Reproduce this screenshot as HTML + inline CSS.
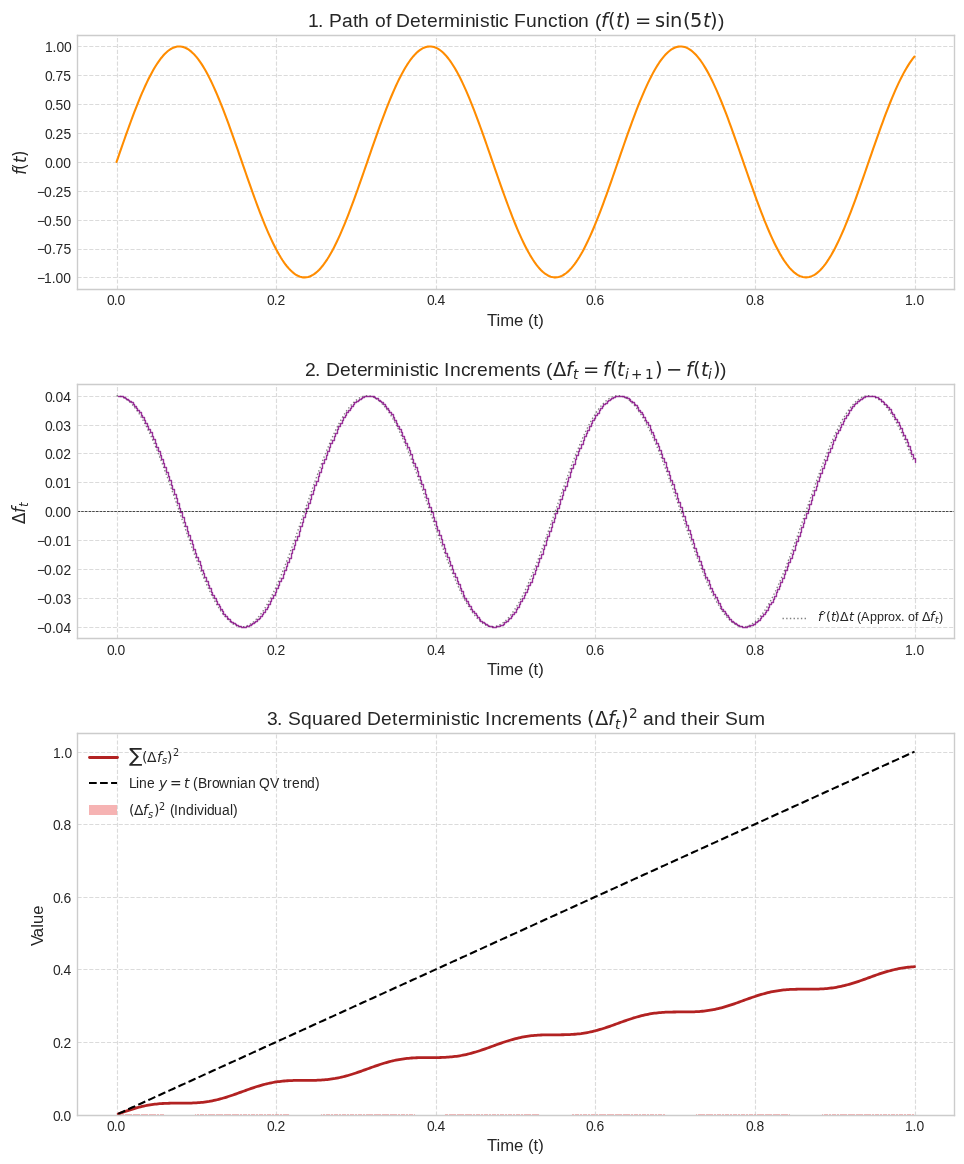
<!DOCTYPE html>
<html lang="en"><head><meta charset="utf-8"><title>Deterministic function: path, increments and quadratic variation</title><style>html,body{margin:0;padding:0;background:#fff}svg{display:block}text{fill:#262626;white-space:pre}.s{font-family:"Liberation Sans", sans-serif}.m{font-family:"DejaVu Sans", sans-serif}.mi{font-family:"DejaVu Sans", sans-serif;font-style:italic}</style></head><body>
<svg width="964" height="1164" viewBox="0 0 964 1164">
<defs><clipPath id="c1"><rect x="77" y="35" width="877" height="254"/></clipPath><clipPath id="c2"><rect x="77" y="384" width="877" height="254"/></clipPath><clipPath id="c3"><rect x="77" y="733" width="877" height="382"/></clipPath></defs>
<rect width="964" height="1164" fill="#fff"/>
<path d="M117.5 289.5L117.5 35.5" clip-path="url(#c1)" fill="none" stroke="#cccccc" stroke-width="1.111" stroke-opacity="0.7" stroke-dasharray="4.111,1.778" stroke-linejoin="round"/>
<text class="s" font-size="13.889" x="107 113.75 117.5" y="305">0.0</text>
<path d="M276.5 289.5L276.5 35.5" clip-path="url(#c1)" fill="none" stroke="#cccccc" stroke-width="1.111" stroke-opacity="0.7" stroke-dasharray="4.111,1.778" stroke-linejoin="round"/>
<text class="s" font-size="13.889" x="267 273.75 277.5" y="305">0.2</text>
<path d="M436.5 289.5L436.5 35.5" clip-path="url(#c1)" fill="none" stroke="#cccccc" stroke-width="1.111" stroke-opacity="0.7" stroke-dasharray="4.111,1.778" stroke-linejoin="round"/>
<text class="s" font-size="13.889" x="427 433.75 437.5" y="305">0.4</text>
<path d="M595.5 289.5L595.5 35.5" clip-path="url(#c1)" fill="none" stroke="#cccccc" stroke-width="1.111" stroke-opacity="0.7" stroke-dasharray="4.111,1.778" stroke-linejoin="round"/>
<text class="s" font-size="13.889" x="586 592.75 596.5" y="305">0.6</text>
<path d="M755.5 289.5L755.5 35.5" clip-path="url(#c1)" fill="none" stroke="#cccccc" stroke-width="1.111" stroke-opacity="0.7" stroke-dasharray="4.111,1.778" stroke-linejoin="round"/>
<text class="s" font-size="13.889" x="746 752.75 756.5" y="305">0.8</text>
<path d="M915.5 289.5L915.5 35.5" clip-path="url(#c1)" fill="none" stroke="#cccccc" stroke-width="1.111" stroke-opacity="0.7" stroke-dasharray="4.111,1.778" stroke-linejoin="round"/>
<text class="s" font-size="13.889" x="905 912.62 916.38" y="305">1.0</text>
<text class="s" font-size="16.667" x="487 496.5 500.25 514.12 523.38 528 533.62 538.25" y="326">Time (t)</text>
<path d="M77.5 277.5L954.5 277.5" clip-path="url(#c1)" fill="none" stroke="#cccccc" stroke-width="1.111" stroke-opacity="0.7" stroke-dasharray="4.111,1.778" stroke-linejoin="round"/>
<text class="s" font-size="13.889" x="37 44.12 51.75 55.5 63.25" y="283">−1.00</text>
<path d="M77.5 249.5L954.5 249.5" clip-path="url(#c1)" fill="none" stroke="#cccccc" stroke-width="1.111" stroke-opacity="0.7" stroke-dasharray="4.111,1.778" stroke-linejoin="round"/>
<text class="s" font-size="13.889" x="37 44.12 51.88 55.62 63.38" y="254">−0.75</text>
<path d="M77.5 220.5L954.5 220.5" clip-path="url(#c1)" fill="none" stroke="#cccccc" stroke-width="1.111" stroke-opacity="0.7" stroke-dasharray="4.111,1.778" stroke-linejoin="round"/>
<text class="s" font-size="13.889" x="37 44.12 51.88 55.62 63.38" y="226">−0.50</text>
<path d="M77.5 191.5L954.5 191.5" clip-path="url(#c1)" fill="none" stroke="#cccccc" stroke-width="1.111" stroke-opacity="0.7" stroke-dasharray="4.111,1.778" stroke-linejoin="round"/>
<text class="s" font-size="13.889" x="37 44.12 51.88 55.62 63.5" y="197">−0.25</text>
<path d="M77.5 162.5L954.5 162.5" clip-path="url(#c1)" fill="none" stroke="#cccccc" stroke-width="1.111" stroke-opacity="0.7" stroke-dasharray="4.111,1.778" stroke-linejoin="round"/>
<text class="s" font-size="13.889" x="45 51.75 55.5 63.25" y="168">0.00</text>
<path d="M77.5 133.5L954.5 133.5" clip-path="url(#c1)" fill="none" stroke="#cccccc" stroke-width="1.111" stroke-opacity="0.7" stroke-dasharray="4.111,1.778" stroke-linejoin="round"/>
<text class="s" font-size="13.889" x="45 51.75 55.5 63.38" y="139">0.25</text>
<path d="M77.5 104.5L954.5 104.5" clip-path="url(#c1)" fill="none" stroke="#cccccc" stroke-width="1.111" stroke-opacity="0.7" stroke-dasharray="4.111,1.778" stroke-linejoin="round"/>
<text class="s" font-size="13.889" x="45 51.75 55.5 63.25" y="110">0.50</text>
<path d="M77.5 75.5L954.5 75.5" clip-path="url(#c1)" fill="none" stroke="#cccccc" stroke-width="1.111" stroke-opacity="0.7" stroke-dasharray="4.111,1.778" stroke-linejoin="round"/>
<text class="s" font-size="13.889" x="45 51.75 55.5 63.25" y="81">0.75</text>
<path d="M77.5 46.5L954.5 46.5" clip-path="url(#c1)" fill="none" stroke="#cccccc" stroke-width="1.111" stroke-opacity="0.7" stroke-dasharray="4.111,1.778" stroke-linejoin="round"/>
<text class="s" font-size="13.889" x="45 52.62 56.38 64.12" y="52">1.00</text>
<text transform="translate(31 176) rotate(-90)" xml:space="preserve"><tspan class="mi" font-size="16.834" x="1" y="-5">f</tspan><tspan class="m" font-size="16.75" x="6" y="-5">(</tspan><tspan class="mi" font-size="16.834" x="13" y="-5">t</tspan><tspan class="m" font-size="16.75" x="19" y="-5">)</tspan></text>
<path d="M116.57 161.92L118.16 157.3L119.76 152.69L121.35 148.09L122.95 143.52L124.55 138.98L126.14 134.47L127.74 130L129.33 125.59L130.93 121.24L132.53 116.95L134.12 112.73L135.72 108.59L137.31 104.54L138.91 100.57L140.51 96.71L142.1 92.95L143.7 89.3L145.29 85.77L146.89 82.36L148.48 79.07L150.08 75.92L151.68 72.91L153.27 70.04L154.87 67.31L156.46 64.74L158.06 62.32L159.66 60.06L161.25 57.97L162.85 56.04L164.44 54.28L166.04 52.69L167.64 51.28L169.23 50.04L170.83 48.99L172.42 48.11L174.02 47.42L175.62 46.91L177.21 46.58L178.81 46.44L180.4 46.48L182 46.71L183.6 47.12L185.19 47.71L186.79 48.49L188.38 49.45L189.98 50.59L191.58 51.91L193.17 53.4L194.77 55.07L196.36 56.91L197.96 58.91L199.56 61.08L201.15 63.41L202.75 65.9L204.34 68.55L205.94 71.34L207.54 74.28L209.13 77.36L210.73 80.57L212.32 83.91L213.92 87.38L215.52 90.97L217.11 94.67L218.71 98.48L220.3 102.38L221.9 106.39L223.49 110.48L225.09 114.66L226.69 118.91L228.28 123.23L229.88 127.61L231.47 132.05L233.07 136.54L234.67 141.06L236.26 145.62L237.86 150.21L239.45 154.81L241.05 159.43L242.65 164.05L244.24 168.66L245.84 173.27L247.43 177.85L249.03 182.41L250.63 186.94L252.22 191.43L253.82 195.87L255.41 200.26L257.01 204.59L258.61 208.84L260.2 213.03L261.8 217.13L263.39 221.14L264.99 225.06L266.59 228.87L268.18 232.58L269.78 236.18L271.37 239.66L272.97 243.01L274.57 246.23L276.16 249.32L277.76 252.27L279.35 255.08L280.95 257.73L282.55 260.23L284.14 262.58L285.74 264.76L287.33 266.78L288.93 268.63L290.53 270.31L292.12 271.82L293.72 273.15L295.31 274.3L296.91 275.28L298.51 276.07L300.1 276.68L301.7 277.11L303.29 277.35L304.89 277.41L306.48 277.28L308.08 276.97L309.68 276.47L311.27 275.79L312.87 274.93L314.46 273.89L316.06 272.66L317.66 271.27L319.25 269.69L320.85 267.95L322.44 266.03L324.04 263.95L325.64 261.7L327.23 259.3L328.83 256.74L330.42 254.03L332.02 251.17L333.62 248.16L335.21 245.02L336.81 241.75L338.4 238.35L340 234.82L341.6 231.18L343.19 227.43L344.79 223.58L346.38 219.62L347.98 215.58L349.58 211.44L351.17 207.23L352.77 202.95L354.36 198.6L355.96 194.19L357.56 189.73L359.15 185.22L360.75 180.68L362.34 176.11L363.94 171.52L365.54 166.91L367.13 162.29L368.73 157.67L370.32 153.06L371.92 148.46L373.52 143.88L375.11 139.34L376.71 134.83L378.3 130.36L379.9 125.94L381.49 121.58L383.09 117.29L384.69 113.06L386.28 108.92L387.88 104.86L389.47 100.89L391.07 97.01L392.67 93.25L394.26 89.59L395.86 86.04L397.45 82.62L399.05 79.33L400.65 76.17L402.24 73.14L403.84 70.26L405.43 67.52L407.03 64.94L408.63 62.51L410.22 60.24L411.82 58.13L413.41 56.19L415.01 54.41L416.61 52.81L418.2 51.39L419.8 50.14L421.39 49.06L422.99 48.17L424.59 47.47L426.18 46.94L427.78 46.6L429.37 46.44L430.97 46.47L432.57 46.68L434.16 47.08L435.76 47.66L437.35 48.42L438.95 49.37L440.55 50.49L442.14 51.8L443.74 53.28L445.33 54.93L446.93 56.75L448.53 58.75L450.12 60.9L451.72 63.22L453.31 65.7L454.91 68.33L456.51 71.11L458.1 74.04L459.7 77.1L461.29 80.31L462.89 83.64L464.48 87.1L466.08 90.68L467.68 94.37L469.27 98.17L470.87 102.07L472.46 106.07L474.06 110.15L475.66 114.32L477.25 118.57L478.85 122.89L480.44 127.26L482.04 131.7L483.64 136.18L485.23 140.7L486.83 145.26L488.42 149.84L490.02 154.44L491.62 159.06L493.21 163.68L494.81 168.29L496.4 172.9L498 177.49L499.6 182.05L501.19 186.58L502.79 191.08L504.38 195.52L505.98 199.91L507.58 204.24L509.17 208.51L510.77 212.7L512.36 216.8L513.96 220.82L515.56 224.75L517.15 228.57L518.75 232.29L520.34 235.9L521.94 239.38L523.54 242.75L525.13 245.98L526.73 249.08L528.32 252.04L529.92 254.86L531.52 257.52L533.11 260.04L534.71 262.4L536.3 264.59L537.9 266.63L539.49 268.49L541.09 270.18L542.69 271.71L544.28 273.05L545.88 274.22L547.47 275.21L549.07 276.01L550.67 276.64L552.26 277.08L553.86 277.34L555.45 277.41L557.05 277.29L558.65 277L560.24 276.52L561.84 275.85L563.43 275L565.03 273.98L566.63 272.77L568.22 271.38L569.82 269.82L571.41 268.09L573.01 266.19L574.61 264.12L576.2 261.89L577.8 259.5L579.39 256.95L580.99 254.25L582.59 251.4L584.18 248.41L585.78 245.28L587.37 242.01L588.97 238.62L590.57 235.11L592.16 231.48L593.76 227.74L595.35 223.89L596.95 219.94L598.55 215.9L600.14 211.78L601.74 207.57L603.33 203.29L604.93 198.95L606.53 194.54L608.12 190.09L609.72 185.58L611.31 181.05L612.91 176.48L614.51 171.88L616.1 167.27L617.7 162.66L619.29 158.04L620.89 153.42L622.48 148.82L624.08 144.25L625.68 139.7L627.27 135.18L628.87 130.71L630.46 126.29L632.06 121.93L633.66 117.62L635.25 113.4L636.85 109.24L638.44 105.18L640.04 101.2L641.64 97.32L643.23 93.54L644.83 89.87L646.42 86.32L648.02 82.89L649.62 79.59L651.21 76.41L652.81 73.38L654.4 70.48L656 67.74L657.6 65.14L659.19 62.7L660.79 60.41L662.38 58.29L663.98 56.33L665.58 54.55L667.17 52.93L668.77 51.49L670.36 50.23L671.96 49.14L673.56 48.24L675.15 47.52L676.75 46.98L678.34 46.62L679.94 46.45L681.54 46.46L683.13 46.66L684.73 47.04L686.32 47.61L687.92 48.36L689.52 49.29L691.11 50.4L692.71 51.69L694.3 53.15L695.9 54.79L697.49 56.6L699.09 58.58L700.69 60.73L702.28 63.03L703.88 65.5L705.47 68.12L707.07 70.89L708.67 73.8L710.26 76.86L711.86 80.05L713.45 83.37L715.05 86.82L716.65 90.39L718.24 94.07L719.84 97.86L721.43 101.76L723.03 105.75L724.63 109.83L726.22 113.99L727.82 118.23L729.41 122.54L731.01 126.91L732.61 131.34L734.2 135.82L735.8 140.34L737.39 144.89L738.99 149.48L740.59 154.08L742.18 158.69L743.78 163.31L745.37 167.93L746.97 172.53L748.57 177.12L750.16 181.69L751.76 186.22L753.35 190.72L754.95 195.17L756.55 199.57L758.14 203.9L759.74 208.17L761.33 212.37L762.93 216.48L764.53 220.51L766.12 224.44L767.72 228.27L769.31 232L770.91 235.61L772.51 239.11L774.1 242.48L775.7 245.73L777.29 248.84L778.89 251.81L780.48 254.64L782.08 257.32L783.68 259.84L785.27 262.21L786.87 264.42L788.46 266.47L790.06 268.35L791.66 270.06L793.25 271.59L794.85 272.95L796.44 274.13L798.04 275.13L799.64 275.96L801.23 276.6L802.83 277.05L804.42 277.32L806.02 277.41L807.62 277.31L809.21 277.03L810.81 276.56L812.4 275.91L814 275.08L815.6 274.06L817.19 272.87L818.79 271.5L820.38 269.95L821.98 268.24L823.58 266.35L825.17 264.29L826.77 262.07L828.36 259.69L829.96 257.16L831.56 254.47L833.15 251.63L834.75 248.65L836.34 245.53L837.94 242.28L839.54 238.9L841.13 235.39L842.73 231.77L844.32 228.04L845.92 224.2L847.52 220.26L849.11 216.23L850.71 212.11L852.3 207.91L853.9 203.63L855.49 199.29L857.09 194.89L858.69 190.44L860.28 185.94L861.88 181.41L863.47 176.84L865.07 172.25L866.67 167.64L868.26 163.02L869.86 158.4L871.45 153.79L873.05 149.19L874.65 144.61L876.24 140.06L877.84 135.54L879.43 131.07L881.03 126.64L882.63 122.27L884.22 117.96L885.82 113.73L887.41 109.57L889.01 105.5L890.61 101.51L892.2 97.62L893.8 93.84L895.39 90.16L896.99 86.6L898.59 83.16L900.18 79.85L901.78 76.66L903.37 73.62L904.97 70.71L906.57 67.95L908.16 65.34L909.76 62.88L911.35 60.59L912.95 58.45L914.55 56.48" clip-path="url(#c1)" fill="none" stroke="#ff8c00" stroke-width="2.083" stroke-linecap="round" stroke-linejoin="round"/>
<path d="M77.5 289.5L77.5 35.5" fill="none" stroke="#cccccc" stroke-width="1.389" stroke-linecap="square"/>
<path d="M954.5 289.5L954.5 35.5" fill="none" stroke="#cccccc" stroke-width="1.389" stroke-linecap="square"/>
<path d="M77.5 289.5L954.5 289.5" fill="none" stroke="#cccccc" stroke-width="1.389" stroke-linecap="square"/>
<path d="M77.5 35.5L954.5 35.5" fill="none" stroke="#cccccc" stroke-width="1.389" stroke-linecap="square"/>
<text transform="translate(307 34)" xml:space="preserve"><tspan class="s" font-size="19.25" x="1 11 17 22 35 46 51 62 68 79 84 89 103 114 120 131 137 153 158 168 173 183 188 192 202 207 219 230 241 251 256 261 271 282 288" y="-7">1. Path of Deterministic Function (</tspan><tspan class="mi" font-size="19.444" x="294" y="-7">f</tspan><tspan class="m" font-size="19.444" x="301" y="-7">(</tspan><tspan class="mi" font-size="19.444" x="309" y="-7">t</tspan><tspan class="m" font-size="19.444" x="316 328 348 358 363 376 383" y="-7">)=sin(5</tspan><tspan class="mi" font-size="19.444" x="396" y="-7">t</tspan><tspan class="m" font-size="19.444" x="403" y="-7">)</tspan><tspan class="s" font-size="19.25" x="411" y="-7">)</tspan></text>
<path d="M117.5 638.5L117.5 384.5" clip-path="url(#c2)" fill="none" stroke="#cccccc" stroke-width="1.111" stroke-opacity="0.7" stroke-dasharray="4.111,1.778" stroke-linejoin="round"/>
<text class="s" font-size="13.889" x="107 113.75 117.5" y="655">0.0</text>
<path d="M276.5 638.5L276.5 384.5" clip-path="url(#c2)" fill="none" stroke="#cccccc" stroke-width="1.111" stroke-opacity="0.7" stroke-dasharray="4.111,1.778" stroke-linejoin="round"/>
<text class="s" font-size="13.889" x="267 273.75 277.5" y="655">0.2</text>
<path d="M436.5 638.5L436.5 384.5" clip-path="url(#c2)" fill="none" stroke="#cccccc" stroke-width="1.111" stroke-opacity="0.7" stroke-dasharray="4.111,1.778" stroke-linejoin="round"/>
<text class="s" font-size="13.889" x="427 433.75 437.5" y="655">0.4</text>
<path d="M595.5 638.5L595.5 384.5" clip-path="url(#c2)" fill="none" stroke="#cccccc" stroke-width="1.111" stroke-opacity="0.7" stroke-dasharray="4.111,1.778" stroke-linejoin="round"/>
<text class="s" font-size="13.889" x="586 592.75 596.5" y="655">0.6</text>
<path d="M755.5 638.5L755.5 384.5" clip-path="url(#c2)" fill="none" stroke="#cccccc" stroke-width="1.111" stroke-opacity="0.7" stroke-dasharray="4.111,1.778" stroke-linejoin="round"/>
<text class="s" font-size="13.889" x="746 752.75 756.5" y="655">0.8</text>
<path d="M915.5 638.5L915.5 384.5" clip-path="url(#c2)" fill="none" stroke="#cccccc" stroke-width="1.111" stroke-opacity="0.7" stroke-dasharray="4.111,1.778" stroke-linejoin="round"/>
<text class="s" font-size="13.889" x="905 912.62 916.38" y="655">1.0</text>
<text class="s" font-size="16.667" x="487 496.5 500.25 514.12 523.38 528 533.62 538.25" y="675">Time (t)</text>
<path d="M77.5 627.5L954.5 627.5" clip-path="url(#c2)" fill="none" stroke="#cccccc" stroke-width="1.111" stroke-opacity="0.7" stroke-dasharray="4.111,1.778" stroke-linejoin="round"/>
<text class="s" font-size="13.889" x="37 44.12 51.88 55.62 63.38" y="633">−0.04</text>
<path d="M77.5 598.5L954.5 598.5" clip-path="url(#c2)" fill="none" stroke="#cccccc" stroke-width="1.111" stroke-opacity="0.7" stroke-dasharray="4.111,1.778" stroke-linejoin="round"/>
<text class="s" font-size="13.889" x="37 44.12 51.88 55.62 63.38" y="604">−0.03</text>
<path d="M77.5 569.5L954.5 569.5" clip-path="url(#c2)" fill="none" stroke="#cccccc" stroke-width="1.111" stroke-opacity="0.7" stroke-dasharray="4.111,1.778" stroke-linejoin="round"/>
<text class="s" font-size="13.889" x="37 44.12 51.88 55.62 63.38" y="575">−0.02</text>
<path d="M77.5 540.5L954.5 540.5" clip-path="url(#c2)" fill="none" stroke="#cccccc" stroke-width="1.111" stroke-opacity="0.7" stroke-dasharray="4.111,1.778" stroke-linejoin="round"/>
<text class="s" font-size="13.889" x="37 44.12 51.88 55.62 63.38" y="546">−0.01</text>
<path d="M77.5 511.5L954.5 511.5" clip-path="url(#c2)" fill="none" stroke="#cccccc" stroke-width="1.111" stroke-opacity="0.7" stroke-dasharray="4.111,1.778" stroke-linejoin="round"/>
<text class="s" font-size="13.889" x="45 51.75 55.5 63.25" y="517">0.00</text>
<path d="M77.5 482.5L954.5 482.5" clip-path="url(#c2)" fill="none" stroke="#cccccc" stroke-width="1.111" stroke-opacity="0.7" stroke-dasharray="4.111,1.778" stroke-linejoin="round"/>
<text class="s" font-size="13.889" x="45 51.75 55.5 63.25" y="488">0.01</text>
<path d="M77.5 453.5L954.5 453.5" clip-path="url(#c2)" fill="none" stroke="#cccccc" stroke-width="1.111" stroke-opacity="0.7" stroke-dasharray="4.111,1.778" stroke-linejoin="round"/>
<text class="s" font-size="13.889" x="45 51.75 55.5 63.25" y="459">0.02</text>
<path d="M77.5 425.5L954.5 425.5" clip-path="url(#c2)" fill="none" stroke="#cccccc" stroke-width="1.111" stroke-opacity="0.7" stroke-dasharray="4.111,1.778" stroke-linejoin="round"/>
<text class="s" font-size="13.889" x="45 51.75 55.5 63.25" y="431">0.03</text>
<path d="M77.5 396.5L954.5 396.5" clip-path="url(#c2)" fill="none" stroke="#cccccc" stroke-width="1.111" stroke-opacity="0.7" stroke-dasharray="4.111,1.778" stroke-linejoin="round"/>
<text class="s" font-size="13.889" x="45 51.75 55.5 63.25" y="402">0.04</text>
<text transform="translate(31 525) rotate(-90)" xml:space="preserve"><tspan class="m" font-size="16.75" x="1" y="-6">Δ</tspan><tspan class="mi" font-size="16.834" x="12" y="-6">f</tspan><tspan class="mi" font-size="11.667" x="18" y="-3">t</tspan></text>
<path d="M116.57 395.73L118.16 395.83L119.76 396.1L121.35 396.56L122.95 397.21L124.55 398.04L126.14 399.04L127.74 400.23L129.33 401.6L130.93 403.14L132.53 404.85L134.12 406.73L135.72 408.78L137.31 411L138.91 413.37L140.51 415.91L142.1 418.59L143.7 421.42L145.29 424.4L146.89 427.51L148.48 430.76L150.08 434.14L151.68 437.64L153.27 441.26L154.87 444.99L156.46 448.82L158.06 452.76L159.66 456.79L161.25 460.91L162.85 465.1L164.44 469.37L166.04 473.71L167.64 478.11L169.23 482.56L170.83 487.06L172.42 491.59L174.02 496.16L175.62 500.75L177.21 505.36L178.81 509.98L180.4 514.6L182 519.21L183.6 523.81L185.19 528.39L186.79 532.94L188.38 537.46L189.98 541.94L191.58 546.37L193.17 550.74L194.77 555.05L196.36 559.28L197.96 563.44L199.56 567.52L201.15 571.51L202.75 575.4L204.34 579.19L205.94 582.87L207.54 586.43L209.13 589.88L210.73 593.2L212.32 596.38L213.92 599.44L215.52 602.35L217.11 605.11L218.71 607.72L220.3 610.18L221.9 612.49L223.49 614.63L225.09 616.6L226.69 618.41L228.28 620.04L229.88 621.5L231.47 622.78L233.07 623.89L234.67 624.81L236.26 625.56L237.86 626.12L239.45 626.49L241.05 626.69L242.65 626.69L244.24 626.52L245.84 626.15L247.43 625.61L249.03 624.88L250.63 623.97L252.22 622.88L253.82 621.61L255.41 620.16L257.01 618.54L258.61 616.75L260.2 614.79L261.8 612.66L263.39 610.37L264.99 607.93L266.59 605.32L268.18 602.57L269.78 599.67L271.37 596.63L272.97 593.46L274.57 590.15L276.16 586.71L277.76 583.16L279.35 579.49L280.95 575.71L282.55 571.82L284.14 567.84L285.74 563.77L287.33 559.62L288.93 555.39L290.53 551.08L292.12 546.72L293.72 542.29L295.31 537.82L296.91 533.31L298.51 528.75L300.1 524.18L301.7 519.58L303.29 514.96L304.89 510.34L306.48 505.73L308.08 501.12L309.68 496.53L311.27 491.96L312.87 487.42L314.46 482.92L316.06 478.46L317.66 474.06L319.25 469.72L320.85 465.44L322.44 461.24L324.04 457.11L325.64 453.08L327.23 449.13L328.83 445.29L330.42 441.55L332.02 437.92L333.62 434.41L335.21 431.02L336.81 427.77L338.4 424.64L340 421.65L341.6 418.81L343.19 416.11L344.79 413.57L346.38 411.18L347.98 408.95L349.58 406.89L351.17 404.99L352.77 403.27L354.36 401.71L355.96 400.33L357.56 399.13L359.15 398.11L360.75 397.27L362.34 396.61L363.94 396.13L365.54 395.84L367.13 395.73L368.73 395.81L370.32 396.07L371.92 396.52L373.52 397.15L375.11 397.96L376.71 398.96L378.3 400.13L379.9 401.48L381.49 403.01L383.09 404.71L384.69 406.58L386.28 408.62L387.88 410.82L389.47 413.18L391.07 415.7L392.67 418.37L394.26 421.19L395.86 424.16L397.45 427.26L399.05 430.5L400.65 433.86L402.24 437.36L403.84 440.96L405.43 444.69L407.03 448.51L408.63 452.44L410.22 456.47L411.82 460.58L413.41 464.77L415.01 469.03L416.61 473.36L418.2 477.76L419.8 482.21L421.39 486.7L422.99 491.23L424.59 495.8L426.18 500.39L427.78 504.99L429.37 509.61L430.97 514.23L432.57 518.84L434.16 523.44L435.76 528.03L437.35 532.58L438.95 537.1L440.55 541.58L442.14 546.02L443.74 550.39L445.33 554.71L446.93 558.95L448.53 563.12L450.12 567.2L451.72 571.2L453.31 575.09L454.91 578.89L456.51 582.58L458.1 586.15L459.7 589.61L461.29 592.94L462.89 596.14L464.48 599.2L466.08 602.12L467.68 604.9L469.27 607.52L470.87 609.99L472.46 612.31L474.06 614.46L475.66 616.45L477.25 618.27L478.85 619.92L480.44 621.39L482.04 622.69L483.64 623.81L485.23 624.75L486.83 625.5L488.42 626.08L490.02 626.47L491.62 626.68L493.21 626.7L494.81 626.54L496.4 626.19L498 625.66L499.6 624.94L501.19 624.05L502.79 622.97L504.38 621.72L505.98 620.28L507.58 618.68L509.17 616.9L510.77 614.95L512.36 612.84L513.96 610.56L515.56 608.13L517.15 605.54L518.75 602.8L520.34 599.91L521.94 596.88L523.54 593.71L525.13 590.41L526.73 586.99L528.32 583.44L529.92 579.78L531.52 576.01L533.11 572.14L534.71 568.16L536.3 564.1L537.9 559.95L539.49 555.73L541.09 551.43L542.69 547.07L544.28 542.65L545.88 538.18L547.47 533.67L549.07 529.12L550.67 524.54L552.26 519.94L553.86 515.33L555.45 510.71L557.05 506.09L558.65 501.48L560.24 496.89L561.84 492.32L563.43 487.78L565.03 483.27L566.63 478.82L568.22 474.41L569.82 470.06L571.41 465.78L573.01 461.57L574.61 457.44L576.2 453.4L577.8 449.44L579.39 445.59L580.99 441.84L582.59 438.21L584.18 434.69L585.78 431.29L587.37 428.02L588.97 424.88L590.57 421.89L592.16 419.03L593.76 416.32L595.35 413.77L596.95 411.37L598.55 409.13L600.14 407.05L601.74 405.14L603.33 403.4L604.93 401.83L606.53 400.44L608.12 399.22L609.72 398.18L611.31 397.33L612.91 396.65L614.51 396.16L616.1 395.86L617.7 395.74L619.29 395.8L620.89 396.05L622.48 396.48L624.08 397.09L625.68 397.89L627.27 398.87L628.87 400.03L630.46 401.37L632.06 402.88L633.66 404.57L635.25 406.42L636.85 408.45L638.44 410.64L640.04 412.99L641.64 415.49L643.23 418.15L644.83 420.96L646.42 423.91L648.02 427.01L649.62 430.23L651.21 433.59L652.81 437.07L654.4 440.67L656 444.39L657.6 448.21L659.19 452.13L660.79 456.14L662.38 460.25L663.98 464.43L665.58 468.69L667.17 473.02L668.77 477.41L670.36 481.85L671.96 486.34L673.56 490.87L675.15 495.43L676.75 500.02L678.34 504.62L679.94 509.24L681.54 513.86L683.13 518.47L684.73 523.08L686.32 527.66L687.92 532.22L689.52 536.75L691.11 541.23L692.71 545.66L694.3 550.05L695.9 554.36L697.49 558.61L699.09 562.79L700.69 566.88L702.28 570.88L703.88 574.79L705.47 578.59L707.07 582.29L708.67 585.87L710.26 589.34L711.86 592.68L713.45 595.89L715.05 598.96L716.65 601.89L718.24 604.68L719.84 607.32L721.43 609.8L723.03 612.13L724.63 614.3L726.22 616.3L727.82 618.13L729.41 619.79L731.01 621.28L732.61 622.59L734.2 623.72L735.8 624.68L737.39 625.45L738.99 626.04L740.59 626.45L742.18 626.67L743.78 626.7L745.37 626.56L746.97 626.22L748.57 625.71L750.16 625.01L751.76 624.13L753.35 623.06L754.95 621.82L756.55 620.4L758.14 618.81L759.74 617.05L761.33 615.11L762.93 613.01L764.53 610.75L766.12 608.33L767.72 605.75L769.31 603.02L770.91 600.14L772.51 597.13L774.1 593.97L775.7 590.68L777.29 587.27L778.89 583.73L780.48 580.08L782.08 576.31L783.68 572.45L785.27 568.48L786.87 564.43L788.46 560.28L790.06 556.06L791.66 551.77L793.25 547.42L794.85 543L796.44 538.54L798.04 534.03L799.64 529.48L801.23 524.91L802.83 520.31L804.42 515.7L806.02 511.08L807.62 506.46L809.21 501.85L810.81 497.26L812.4 492.68L814 488.14L815.6 483.63L817.19 479.17L818.79 474.76L820.38 470.4L821.98 466.12L823.58 461.9L825.17 457.77L826.77 453.71L828.36 449.76L829.96 445.89L831.56 442.14L833.15 438.49L834.75 434.96L836.34 431.56L837.94 428.28L839.54 425.13L841.13 422.12L842.73 419.25L844.32 416.53L845.92 413.96L847.52 411.55L849.11 409.3L850.71 407.21L852.3 405.28L853.9 403.53L855.49 401.95L857.09 400.54L858.69 399.31L860.28 398.26L861.88 397.39L863.47 396.7L865.07 396.2L866.67 395.88L868.26 395.74L869.86 395.79L871.45 396.02L873.05 396.44L874.65 397.04L876.24 397.82L877.84 398.79L879.43 399.93L881.03 401.25L882.63 402.75L884.22 404.43L885.82 406.27L887.41 408.28L889.01 410.46L890.61 412.79L892.2 415.29L893.8 417.93L895.39 420.73L896.99 423.67L898.59 426.76L900.18 429.97L901.78 433.32L903.37 436.79L904.97 440.38L906.57 444.09L908.16 447.9L909.76 451.81L911.35 455.82L912.95 459.92" clip-path="url(#c2)" fill="none" stroke="#808080" stroke-width="1.389" stroke-dasharray="1.389,2.292" stroke-linejoin="round"/>
<path d="M118.5 396.5L120.5 396.5L120.5 396.5L121.5 396.5L121.5 396.5L123.5 396.5L123.5 397.5L125.5 397.5L125.5 398.5L126.5 398.5L126.5 399.5L128.5 399.5L128.5 400.5L129.5 400.5L129.5 401.5L131.5 401.5L131.5 402.5L133.5 402.5L133.5 404.5L134.5 404.5L134.5 406.5L136.5 406.5L136.5 408.5L137.5 408.5L137.5 410.5L139.5 410.5L139.5 412.5L141.5 412.5L141.5 415.5L142.5 415.5L142.5 417.5L144.5 417.5L144.5 420.5L145.5 420.5L145.5 423.5L147.5 423.5L147.5 426.5L148.5 426.5L148.5 429.5L150.5 429.5L150.5 432.5L152.5 432.5L152.5 436.5L153.5 436.5L153.5 439.5L155.5 439.5L155.5 443.5L156.5 443.5L156.5 447.5L158.5 447.5L158.5 451.5L160.5 451.5L160.5 455.5L161.5 455.5L161.5 459.5L163.5 459.5L163.5 463.5L164.5 463.5L164.5 467.5L166.5 467.5L166.5 472.5L168.5 472.5L168.5 476.5L169.5 476.5L169.5 480.5L171.5 480.5L171.5 485.5L172.5 485.5L172.5 489.5L174.5 489.5L174.5 494.5L176.5 494.5L176.5 498.5L177.5 498.5L177.5 503.5L179.5 503.5L179.5 508.5L180.5 508.5L180.5 512.5L182.5 512.5L182.5 517.5L184.5 517.5L184.5 522.5L185.5 522.5L185.5 526.5L187.5 526.5L187.5 531.5L188.5 531.5L188.5 535.5L190.5 535.5L190.5 540.5L192.5 540.5L192.5 544.5L193.5 544.5L193.5 549.5L195.5 549.5L195.5 553.5L196.5 553.5L196.5 557.5L198.5 557.5L198.5 561.5L200.5 561.5L200.5 565.5L201.5 565.5L201.5 570.5L203.5 570.5L203.5 573.5L204.5 573.5L204.5 577.5L206.5 577.5L206.5 581.5L208.5 581.5L208.5 585.5L209.5 585.5L209.5 588.5L211.5 588.5L211.5 592.5L212.5 592.5L212.5 595.5L214.5 595.5L214.5 598.5L216.5 598.5L216.5 601.5L217.5 601.5L217.5 604.5L219.5 604.5L219.5 606.5L220.5 606.5L220.5 609.5L222.5 609.5L222.5 611.5L223.5 611.5L223.5 614.5L225.5 614.5L225.5 616.5L227.5 616.5L227.5 618.5L228.5 618.5L228.5 619.5L230.5 619.5L230.5 621.5L231.5 621.5L231.5 622.5L233.5 622.5L233.5 623.5L235.5 623.5L235.5 624.5L236.5 624.5L236.5 625.5L238.5 625.5L238.5 626.5L239.5 626.5L239.5 626.5L241.5 626.5L241.5 627.5L243.5 627.5L243.5 627.5L244.5 627.5L244.5 627.5L246.5 627.5L246.5 626.5L247.5 626.5L247.5 626.5L249.5 626.5L249.5 625.5L251.5 625.5L251.5 624.5L252.5 624.5L252.5 623.5L254.5 623.5L254.5 622.5L255.5 622.5L255.5 621.5L257.5 621.5L257.5 619.5L259.5 619.5L259.5 618.5L260.5 618.5L260.5 616.5L262.5 616.5L262.5 614.5L263.5 614.5L263.5 612.5L265.5 612.5L265.5 609.5L267.5 609.5L267.5 607.5L268.5 607.5L268.5 604.5L270.5 604.5L270.5 601.5L271.5 601.5L271.5 598.5L273.5 598.5L273.5 595.5L275.5 595.5L275.5 592.5L276.5 592.5L276.5 588.5L278.5 588.5L278.5 585.5L279.5 585.5L279.5 581.5L281.5 581.5L281.5 578.5L283.5 578.5L283.5 574.5L284.5 574.5L284.5 570.5L286.5 570.5L286.5 566.5L287.5 566.5L287.5 562.5L289.5 562.5L289.5 558.5L291.5 558.5L291.5 553.5L292.5 553.5L292.5 549.5L294.5 549.5L294.5 545.5L295.5 545.5L295.5 540.5L297.5 540.5L297.5 536.5L299.5 536.5L299.5 531.5L300.5 531.5L300.5 526.5L302.5 526.5L302.5 522.5L303.5 522.5L303.5 517.5L305.5 517.5L305.5 513.5L306.5 513.5L306.5 508.5L308.5 508.5L308.5 503.5L310.5 503.5L310.5 499.5L311.5 499.5L311.5 494.5L313.5 494.5L313.5 490.5L314.5 490.5L314.5 485.5L316.5 485.5L316.5 481.5L318.5 481.5L318.5 476.5L319.5 476.5L319.5 472.5L321.5 472.5L321.5 468.5L322.5 468.5L322.5 463.5L324.5 463.5L324.5 459.5L326.5 459.5L326.5 455.5L327.5 455.5L327.5 451.5L329.5 451.5L329.5 447.5L330.5 447.5L330.5 443.5L332.5 443.5L332.5 440.5L334.5 440.5L334.5 436.5L335.5 436.5L335.5 433.5L337.5 433.5L337.5 429.5L338.5 429.5L338.5 426.5L340.5 426.5L340.5 423.5L342.5 423.5L342.5 420.5L343.5 420.5L343.5 417.5L345.5 417.5L345.5 415.5L346.5 415.5L346.5 412.5L348.5 412.5L348.5 410.5L350.5 410.5L350.5 408.5L351.5 408.5L351.5 406.5L353.5 406.5L353.5 404.5L354.5 404.5L354.5 402.5L356.5 402.5L356.5 401.5L358.5 401.5L358.5 400.5L359.5 400.5L359.5 399.5L361.5 399.5L361.5 398.5L362.5 398.5L362.5 397.5L364.5 397.5L364.5 396.5L366.5 396.5L366.5 396.5L367.5 396.5L367.5 396.5L369.5 396.5L369.5 396.5L370.5 396.5L370.5 396.5L372.5 396.5L372.5 396.5L374.5 396.5L374.5 397.5L375.5 397.5L375.5 398.5L377.5 398.5L377.5 398.5L378.5 398.5L378.5 400.5L380.5 400.5L380.5 401.5L381.5 401.5L381.5 402.5L383.5 402.5L383.5 404.5L385.5 404.5L385.5 406.5L386.5 406.5L386.5 408.5L388.5 408.5L388.5 410.5L389.5 410.5L389.5 412.5L391.5 412.5L391.5 414.5L393.5 414.5L393.5 417.5L394.5 417.5L394.5 420.5L396.5 420.5L396.5 423.5L397.5 423.5L397.5 426.5L399.5 426.5L399.5 429.5L401.5 429.5L401.5 432.5L402.5 432.5L402.5 436.5L404.5 436.5L404.5 439.5L405.5 439.5L405.5 443.5L407.5 443.5L407.5 447.5L409.5 447.5L409.5 450.5L410.5 450.5L410.5 454.5L412.5 454.5L412.5 459.5L413.5 459.5L413.5 463.5L415.5 463.5L415.5 467.5L417.5 467.5L417.5 471.5L418.5 471.5L418.5 476.5L420.5 476.5L420.5 480.5L421.5 480.5L421.5 484.5L423.5 484.5L423.5 489.5L425.5 489.5L425.5 494.5L426.5 494.5L426.5 498.5L428.5 498.5L428.5 503.5L429.5 503.5L429.5 507.5L431.5 507.5L431.5 512.5L433.5 512.5L433.5 517.5L434.5 517.5L434.5 521.5L436.5 521.5L436.5 526.5L437.5 526.5L437.5 530.5L439.5 530.5L439.5 535.5L441.5 535.5L441.5 539.5L442.5 539.5L442.5 544.5L444.5 544.5L444.5 548.5L445.5 548.5L445.5 553.5L447.5 553.5L447.5 557.5L449.5 557.5L449.5 561.5L450.5 561.5L450.5 565.5L452.5 565.5L452.5 569.5L453.5 569.5L453.5 573.5L455.5 573.5L455.5 577.5L457.5 577.5L457.5 581.5L458.5 581.5L458.5 584.5L460.5 584.5L460.5 588.5L461.5 588.5L461.5 591.5L463.5 591.5L463.5 595.5L464.5 595.5L464.5 598.5L466.5 598.5L466.5 601.5L468.5 601.5L468.5 604.5L469.5 604.5L469.5 606.5L471.5 606.5L471.5 609.5L472.5 609.5L472.5 611.5L474.5 611.5L474.5 613.5L476.5 613.5L476.5 615.5L477.5 615.5L477.5 617.5L479.5 617.5L479.5 619.5L480.5 619.5L480.5 621.5L482.5 621.5L482.5 622.5L484.5 622.5L484.5 623.5L485.5 623.5L485.5 624.5L487.5 624.5L487.5 625.5L488.5 625.5L488.5 626.5L490.5 626.5L490.5 626.5L492.5 626.5L492.5 627.5L493.5 627.5L493.5 627.5L495.5 627.5L495.5 627.5L496.5 627.5L496.5 626.5L498.5 626.5L498.5 626.5L500.5 626.5L500.5 625.5L501.5 625.5L501.5 625.5L503.5 625.5L503.5 624.5L504.5 624.5L504.5 622.5L506.5 622.5L506.5 621.5L508.5 621.5L508.5 619.5L509.5 619.5L509.5 618.5L511.5 618.5L511.5 616.5L512.5 616.5L512.5 614.5L514.5 614.5L514.5 612.5L516.5 612.5L516.5 609.5L517.5 609.5L517.5 607.5L519.5 607.5L519.5 604.5L520.5 604.5L520.5 601.5L522.5 601.5L522.5 598.5L524.5 598.5L524.5 595.5L525.5 595.5L525.5 592.5L527.5 592.5L527.5 589.5L528.5 589.5L528.5 585.5L530.5 585.5L530.5 582.5L532.5 582.5L532.5 578.5L533.5 578.5L533.5 574.5L535.5 574.5L535.5 570.5L536.5 570.5L536.5 566.5L538.5 566.5L538.5 562.5L539.5 562.5L539.5 558.5L541.5 558.5L541.5 554.5L543.5 554.5L543.5 549.5L544.5 549.5L544.5 545.5L546.5 545.5L546.5 540.5L547.5 540.5L547.5 536.5L549.5 536.5L549.5 531.5L551.5 531.5L551.5 527.5L552.5 527.5L552.5 522.5L554.5 522.5L554.5 518.5L555.5 518.5L555.5 513.5L557.5 513.5L557.5 508.5L559.5 508.5L559.5 504.5L560.5 504.5L560.5 499.5L562.5 499.5L562.5 495.5L563.5 495.5L563.5 490.5L565.5 490.5L565.5 486.5L567.5 486.5L567.5 481.5L568.5 481.5L568.5 477.5L570.5 477.5L570.5 472.5L571.5 472.5L571.5 468.5L573.5 468.5L573.5 464.5L575.5 464.5L575.5 459.5L576.5 459.5L576.5 455.5L578.5 455.5L578.5 451.5L579.5 451.5L579.5 448.5L581.5 448.5L581.5 444.5L583.5 444.5L583.5 440.5L584.5 440.5L584.5 436.5L586.5 436.5L586.5 433.5L587.5 433.5L587.5 430.5L589.5 430.5L589.5 426.5L591.5 426.5L591.5 423.5L592.5 423.5L592.5 420.5L594.5 420.5L594.5 418.5L595.5 418.5L595.5 415.5L597.5 415.5L597.5 413.5L599.5 413.5L599.5 410.5L600.5 410.5L600.5 408.5L602.5 408.5L602.5 406.5L603.5 406.5L603.5 404.5L605.5 404.5L605.5 403.5L607.5 403.5L607.5 401.5L608.5 401.5L608.5 400.5L610.5 400.5L610.5 399.5L611.5 399.5L611.5 398.5L613.5 398.5L613.5 397.5L615.5 397.5L615.5 396.5L616.5 396.5L616.5 396.5L618.5 396.5L618.5 396.5L619.5 396.5L619.5 396.5L621.5 396.5L621.5 396.5L622.5 396.5L622.5 396.5L624.5 396.5L624.5 397.5L626.5 397.5L626.5 397.5L627.5 397.5L627.5 398.5L629.5 398.5L629.5 399.5L630.5 399.5L630.5 401.5L632.5 401.5L632.5 402.5L634.5 402.5L634.5 404.5L635.5 404.5L635.5 405.5L637.5 405.5L637.5 407.5L638.5 407.5L638.5 410.5L640.5 410.5L640.5 412.5L642.5 412.5L642.5 414.5L643.5 414.5L643.5 417.5L645.5 417.5L645.5 420.5L646.5 420.5L646.5 422.5L648.5 422.5L648.5 425.5L650.5 425.5L650.5 429.5L651.5 429.5L651.5 432.5L653.5 432.5L653.5 435.5L654.5 435.5L654.5 439.5L656.5 439.5L656.5 443.5L658.5 443.5L658.5 446.5L659.5 446.5L659.5 450.5L661.5 450.5L661.5 454.5L662.5 454.5L662.5 458.5L664.5 458.5L664.5 462.5L666.5 462.5L666.5 467.5L667.5 467.5L667.5 471.5L669.5 471.5L669.5 475.5L670.5 475.5L670.5 480.5L672.5 480.5L672.5 484.5L674.5 484.5L674.5 489.5L675.5 489.5L675.5 493.5L677.5 493.5L677.5 498.5L678.5 498.5L678.5 502.5L680.5 502.5L680.5 507.5L682.5 507.5L682.5 512.5L683.5 512.5L683.5 516.5L685.5 516.5L685.5 521.5L686.5 521.5L686.5 525.5L688.5 525.5L688.5 530.5L690.5 530.5L690.5 534.5L691.5 534.5L691.5 539.5L693.5 539.5L693.5 543.5L694.5 543.5L694.5 548.5L696.5 548.5L696.5 552.5L697.5 552.5L697.5 556.5L699.5 556.5L699.5 561.5L701.5 561.5L701.5 565.5L702.5 565.5L702.5 569.5L704.5 569.5L704.5 573.5L705.5 573.5L705.5 577.5L707.5 577.5L707.5 580.5L709.5 580.5L709.5 584.5L710.5 584.5L710.5 588.5L712.5 588.5L712.5 591.5L713.5 591.5L713.5 594.5L715.5 594.5L715.5 597.5L717.5 597.5L717.5 600.5L718.5 600.5L718.5 603.5L720.5 603.5L720.5 606.5L721.5 606.5L721.5 609.5L723.5 609.5L723.5 611.5L725.5 611.5L725.5 613.5L726.5 613.5L726.5 615.5L728.5 615.5L728.5 617.5L729.5 617.5L729.5 619.5L731.5 619.5L731.5 621.5L733.5 621.5L733.5 622.5L734.5 622.5L734.5 623.5L736.5 623.5L736.5 624.5L737.5 624.5L737.5 625.5L739.5 625.5L739.5 626.5L741.5 626.5L741.5 626.5L742.5 626.5L742.5 627.5L744.5 627.5L744.5 627.5L745.5 627.5L745.5 627.5L747.5 627.5L747.5 626.5L749.5 626.5L749.5 626.5L750.5 626.5L750.5 625.5L752.5 625.5L752.5 625.5L753.5 625.5L753.5 624.5L755.5 624.5L755.5 622.5L757.5 622.5L757.5 621.5L758.5 621.5L758.5 620.5L760.5 620.5L760.5 618.5L761.5 618.5L761.5 616.5L763.5 616.5L763.5 614.5L765.5 614.5L765.5 612.5L766.5 612.5L766.5 610.5L768.5 610.5L768.5 607.5L769.5 607.5L769.5 604.5L771.5 604.5L771.5 602.5L773.5 602.5L773.5 599.5L774.5 599.5L774.5 596.5L776.5 596.5L776.5 592.5L777.5 592.5L777.5 589.5L779.5 589.5L779.5 586.5L780.5 586.5L780.5 582.5L782.5 582.5L782.5 578.5L784.5 578.5L784.5 574.5L785.5 574.5L785.5 570.5L787.5 570.5L787.5 566.5L788.5 566.5L788.5 562.5L790.5 562.5L790.5 558.5L792.5 558.5L792.5 554.5L793.5 554.5L793.5 550.5L795.5 550.5L795.5 545.5L796.5 545.5L796.5 541.5L798.5 541.5L798.5 536.5L800.5 536.5L800.5 532.5L801.5 532.5L801.5 527.5L803.5 527.5L803.5 523.5L804.5 523.5L804.5 518.5L806.5 518.5L806.5 513.5L808.5 513.5L808.5 509.5L809.5 509.5L809.5 504.5L811.5 504.5L811.5 500.5L812.5 500.5L812.5 495.5L814.5 495.5L814.5 490.5L816.5 490.5L816.5 486.5L817.5 486.5L817.5 481.5L819.5 481.5L819.5 477.5L820.5 477.5L820.5 473.5L822.5 473.5L822.5 468.5L824.5 468.5L824.5 464.5L825.5 464.5L825.5 460.5L827.5 460.5L827.5 456.5L828.5 456.5L828.5 452.5L830.5 452.5L830.5 448.5L832.5 448.5L832.5 444.5L833.5 444.5L833.5 440.5L835.5 440.5L835.5 437.5L836.5 437.5L836.5 433.5L838.5 433.5L838.5 430.5L840.5 430.5L840.5 427.5L841.5 427.5L841.5 424.5L843.5 424.5L843.5 421.5L844.5 421.5L844.5 418.5L846.5 418.5L846.5 415.5L848.5 415.5L848.5 413.5L849.5 413.5L849.5 410.5L851.5 410.5L851.5 408.5L852.5 408.5L852.5 406.5L854.5 406.5L854.5 404.5L855.5 404.5L855.5 403.5L857.5 403.5L857.5 401.5L859.5 401.5L859.5 400.5L860.5 400.5L860.5 399.5L862.5 399.5L862.5 398.5L863.5 398.5L863.5 397.5L865.5 397.5L865.5 396.5L867.5 396.5L867.5 396.5L868.5 396.5L868.5 396.5L870.5 396.5L870.5 396.5L871.5 396.5L871.5 396.5L873.5 396.5L873.5 396.5L875.5 396.5L875.5 397.5L876.5 397.5L876.5 397.5L878.5 397.5L878.5 398.5L879.5 398.5L879.5 399.5L881.5 399.5L881.5 401.5L883.5 401.5L883.5 402.5L884.5 402.5L884.5 404.5L886.5 404.5L886.5 405.5L887.5 405.5L887.5 407.5L889.5 407.5L889.5 409.5L891.5 409.5L891.5 412.5L892.5 412.5L892.5 414.5L894.5 414.5L894.5 417.5L895.5 417.5L895.5 419.5L897.5 419.5L897.5 422.5L899.5 422.5L899.5 425.5L900.5 425.5L900.5 428.5L902.5 428.5L902.5 432.5L903.5 432.5L903.5 435.5L905.5 435.5L905.5 439.5L907.5 439.5L907.5 442.5L908.5 442.5L908.5 446.5L910.5 446.5L910.5 450.5L911.5 450.5L911.5 454.5L913.5 454.5L913.5 458.5L915.5 458.5L915.5 462.5" clip-path="url(#c2)" fill="none" stroke="#800080" stroke-width="1.389" stroke-opacity="0.8" stroke-linecap="round" stroke-linejoin="round"/>
<path d="M77.5 511.5L954.5 511.5" clip-path="url(#c2)" fill="none" stroke="#000000" stroke-width="0.694" stroke-dasharray="2.569,1.111" stroke-linejoin="round"/>
<path d="M77.5 638.5L77.5 384.5" fill="none" stroke="#cccccc" stroke-width="1.389" stroke-linecap="square"/>
<path d="M954.5 638.5L954.5 384.5" fill="none" stroke="#cccccc" stroke-width="1.389" stroke-linecap="square"/>
<path d="M77.5 638.5L954.5 638.5" fill="none" stroke="#cccccc" stroke-width="1.389" stroke-linecap="square"/>
<path d="M77.5 384.5L954.5 384.5" fill="none" stroke="#cccccc" stroke-width="1.389" stroke-linecap="square"/>
<text transform="translate(304 383)" xml:space="preserve"><tspan class="s" font-size="19.25" x="1 11 17 22 36 47 53 63 70 86 90 101 106 115 121 125 135 140 146 157 166 173 184 200 211 222 227 237 242" y="-7">2. Deterministic Increments (</tspan><tspan class="m" font-size="19.444" x="249" y="-7">Δ</tspan><tspan class="mi" font-size="19.444" x="262" y="-7">f</tspan><tspan class="mi" font-size="13.611" x="269" y="-4">t</tspan><tspan class="m" font-size="19.444" x="279" y="-7">=</tspan><tspan class="mi" font-size="19.444" x="299" y="-7">f</tspan><tspan class="m" font-size="19.444" x="306" y="-7">(</tspan><tspan class="mi" font-size="19.444" x="313" y="-7">t</tspan><tspan class="mi" font-size="13.611" x="321" y="-4">i</tspan><tspan class="m" font-size="13.611" x="327 341" y="-4">+1</tspan><tspan class="m" font-size="19.444" x="351 362" y="-7">)−</tspan><tspan class="mi" font-size="19.444" x="382" y="-7">f</tspan><tspan class="m" font-size="19.444" x="389" y="-7">(</tspan><tspan class="mi" font-size="19.444" x="397" y="-7">t</tspan><tspan class="mi" font-size="13.611" x="404" y="-4">i</tspan><tspan class="m" font-size="19.444" x="409" y="-7">)</tspan><tspan class="s" font-size="19.25" x="416" y="-7">)</tspan></text>
<path d="M782.5 618.5L794.5 618.5L807.5 618.5" fill="none" stroke="#808080" stroke-width="1.389" stroke-dasharray="1.389,2.292" stroke-linejoin="round"/>
<text transform="translate(817 628)" xml:space="preserve"><tspan class="mi" font-size="12.5" x="1" y="-7">f</tspan><tspan class="m" font-size="13.002" x="6" y="-7.25">′</tspan><tspan class="m" font-size="12.5" x="9" y="-7">(</tspan><tspan class="mi" font-size="12.5" x="14" y="-7">t</tspan><tspan class="m" font-size="12.5" x="18 23" y="-7">)Δ</tspan><tspan class="mi" font-size="12.5" x="32" y="-7">t</tspan><tspan class="s" font-size="12.5" x="37 40 44 53 60 67 71 78 84 87 91 98 101" y="-7"> (Approx. of </tspan><tspan class="m" font-size="12.5" x="105" y="-7">Δ</tspan><tspan class="mi" font-size="12.5" x="113" y="-7">f</tspan><tspan class="mi" font-size="8.75" x="118" y="-5">t</tspan><tspan class="s" font-size="12.5" x="122" y="-7">)</tspan></text>
<path d="M117.5 1115.5L117.5 733.5" clip-path="url(#c3)" fill="none" stroke="#cccccc" stroke-width="1.111" stroke-opacity="0.7" stroke-dasharray="4.111,1.778" stroke-linejoin="round"/>
<text class="s" font-size="13.889" x="107 113.75 117.5" y="1131">0.0</text>
<path d="M276.5 1115.5L276.5 733.5" clip-path="url(#c3)" fill="none" stroke="#cccccc" stroke-width="1.111" stroke-opacity="0.7" stroke-dasharray="4.111,1.778" stroke-linejoin="round"/>
<text class="s" font-size="13.889" x="267 273.75 277.5" y="1131">0.2</text>
<path d="M436.5 1115.5L436.5 733.5" clip-path="url(#c3)" fill="none" stroke="#cccccc" stroke-width="1.111" stroke-opacity="0.7" stroke-dasharray="4.111,1.778" stroke-linejoin="round"/>
<text class="s" font-size="13.889" x="427 433.75 437.5" y="1131">0.4</text>
<path d="M595.5 1115.5L595.5 733.5" clip-path="url(#c3)" fill="none" stroke="#cccccc" stroke-width="1.111" stroke-opacity="0.7" stroke-dasharray="4.111,1.778" stroke-linejoin="round"/>
<text class="s" font-size="13.889" x="586 592.75 596.5" y="1131">0.6</text>
<path d="M755.5 1115.5L755.5 733.5" clip-path="url(#c3)" fill="none" stroke="#cccccc" stroke-width="1.111" stroke-opacity="0.7" stroke-dasharray="4.111,1.778" stroke-linejoin="round"/>
<text class="s" font-size="13.889" x="746 752.75 756.5" y="1131">0.8</text>
<path d="M915.5 1115.5L915.5 733.5" clip-path="url(#c3)" fill="none" stroke="#cccccc" stroke-width="1.111" stroke-opacity="0.7" stroke-dasharray="4.111,1.778" stroke-linejoin="round"/>
<text class="s" font-size="13.889" x="905 912.62 916.38" y="1131">1.0</text>
<text class="s" font-size="16.667" x="487 496.5 500.25 514.12 523.38 528 533.62 538.25" y="1151">Time (t)</text>
<path d="M77.5 1115.5L954.5 1115.5" clip-path="url(#c3)" fill="none" stroke="#cccccc" stroke-width="1.111" stroke-opacity="0.7" stroke-dasharray="4.111,1.778" stroke-linejoin="round"/>
<text class="s" font-size="13.889" x="53 59.75 63.5" y="1121">0.0</text>
<path d="M77.5 1042.5L954.5 1042.5" clip-path="url(#c3)" fill="none" stroke="#cccccc" stroke-width="1.111" stroke-opacity="0.7" stroke-dasharray="4.111,1.778" stroke-linejoin="round"/>
<text class="s" font-size="13.889" x="53 59.75 63.5" y="1048">0.2</text>
<path d="M77.5 969.5L954.5 969.5" clip-path="url(#c3)" fill="none" stroke="#cccccc" stroke-width="1.111" stroke-opacity="0.7" stroke-dasharray="4.111,1.778" stroke-linejoin="round"/>
<text class="s" font-size="13.889" x="53 59.75 63.5" y="975">0.4</text>
<path d="M77.5 897.5L954.5 897.5" clip-path="url(#c3)" fill="none" stroke="#cccccc" stroke-width="1.111" stroke-opacity="0.7" stroke-dasharray="4.111,1.778" stroke-linejoin="round"/>
<text class="s" font-size="13.889" x="53 59.75 63.5" y="903">0.6</text>
<path d="M77.5 824.5L954.5 824.5" clip-path="url(#c3)" fill="none" stroke="#cccccc" stroke-width="1.111" stroke-opacity="0.7" stroke-dasharray="4.111,1.778" stroke-linejoin="round"/>
<text class="s" font-size="13.889" x="53 59.75 63.5" y="830">0.8</text>
<path d="M77.5 752.5L954.5 752.5" clip-path="url(#c3)" fill="none" stroke="#cccccc" stroke-width="1.111" stroke-opacity="0.7" stroke-dasharray="4.111,1.778" stroke-linejoin="round"/>
<text class="s" font-size="13.889" x="53 60.62 64.38" y="758">1.0</text>
<text class="s" font-size="16.667" transform="translate(44 946) rotate(-90)" x="0 8.88 18.25 22 31.38" y="-1">Value</text>
<path d="M117 1115L118 1115L118 1114L117 1114ZM118 1115L120 1115L120 1114L118 1114ZM120 1115L121 1115L121 1114L120 1114ZM122 1115L123 1115L123 1114L122 1114ZM123 1115L124 1115L124 1114L123 1114ZM125 1115L126 1115L126 1114L125 1114ZM126 1115L128 1115L128 1114L126 1114ZM128 1115L129 1115L129 1114L128 1114ZM129 1115L131 1115L131 1114L129 1114ZM131 1115L132 1115L132 1114L131 1114ZM133 1115L134 1115L134 1114L133 1114ZM134 1115L136 1115L136 1114L134 1114ZM136 1115L137 1115L137 1114L136 1114ZM137 1115L139 1115L139 1114L137 1114ZM139 1115L140 1115L140 1114L139 1114ZM141 1115L142 1115L142 1114L141 1114ZM142 1115L144 1115L144 1114L142 1114ZM144 1115L145 1115L145 1114L144 1114ZM145 1115L147 1115L147 1114L145 1114ZM147 1115L148 1115L148 1114L147 1114ZM149 1115L150 1115L150 1114L149 1114ZM150 1115L152 1115L152 1114L150 1114ZM152 1115L153 1115L153 1114L152 1114ZM153 1115L155 1115L155 1114L153 1114ZM155 1115L156 1115L156 1114L155 1114ZM157 1115L158 1115L158 1114L157 1114ZM158 1115L159 1115L159 1114L158 1114ZM160 1115L161 1115L161 1114L160 1114ZM161 1115L163 1115L163 1114L161 1114ZM163 1115L164 1115L164 1114L163 1114ZM195 1115L196 1115L196 1114L195 1114ZM197 1115L198 1115L198 1114L197 1114ZM198 1115L199 1115L199 1114L198 1114ZM200 1115L201 1115L201 1114L200 1114ZM201 1115L203 1115L203 1114L201 1114ZM203 1115L204 1115L204 1114L203 1114ZM205 1115L206 1115L206 1114L205 1114ZM206 1115L207 1115L207 1114L206 1114ZM208 1115L209 1115L209 1114L208 1114ZM209 1115L211 1115L211 1114L209 1114ZM211 1115L212 1115L212 1114L211 1114ZM212 1115L214 1115L214 1114L212 1114ZM214 1115L215 1115L215 1114L214 1114ZM216 1115L217 1115L217 1114L216 1114ZM217 1115L219 1115L219 1114L217 1114ZM219 1115L220 1115L220 1114L219 1114ZM220 1115L222 1115L222 1114L220 1114ZM222 1115L223 1115L223 1114L222 1114ZM224 1115L225 1115L225 1114L224 1114ZM225 1115L227 1115L227 1114L225 1114ZM227 1115L228 1115L228 1114L227 1114ZM228 1115L230 1115L230 1114L228 1114ZM230 1115L231 1115L231 1114L230 1114ZM232 1115L233 1115L233 1114L232 1114ZM233 1115L235 1115L235 1114L233 1114ZM235 1115L236 1115L236 1114L235 1114ZM236 1115L238 1115L238 1114L236 1114ZM238 1115L239 1115L239 1114L238 1114ZM240 1115L241 1115L241 1114L240 1114ZM241 1115L242 1115L242 1114L241 1114ZM243 1115L244 1115L244 1114L243 1114ZM244 1115L246 1115L246 1114L244 1114ZM246 1115L247 1115L247 1114L246 1114ZM248 1115L249 1115L249 1114L248 1114ZM249 1115L250 1115L250 1114L249 1114ZM251 1115L252 1115L252 1114L251 1114ZM252 1115L254 1115L254 1114L252 1114ZM254 1115L255 1115L255 1114L254 1114ZM256 1115L257 1115L257 1114L256 1114ZM257 1115L258 1115L258 1114L257 1114ZM259 1115L260 1115L260 1114L259 1114ZM260 1115L262 1115L262 1114L260 1114ZM262 1115L263 1115L263 1114L262 1114ZM264 1115L265 1115L265 1114L264 1114ZM265 1115L266 1115L266 1114L265 1114ZM267 1115L268 1115L268 1114L267 1114ZM268 1115L270 1115L270 1114L268 1114ZM270 1115L271 1115L271 1114L270 1114ZM272 1115L273 1115L273 1114L272 1114ZM273 1115L274 1115L274 1114L273 1114ZM275 1115L276 1115L276 1114L275 1114ZM276 1115L278 1115L278 1114L276 1114ZM278 1115L279 1115L279 1114L278 1114ZM280 1115L281 1115L281 1114L280 1114ZM281 1115L282 1115L282 1114L281 1114ZM283 1115L284 1115L284 1114L283 1114ZM284 1115L286 1115L286 1114L284 1114ZM286 1115L287 1115L287 1114L286 1114ZM287 1115L289 1115L289 1114L287 1114ZM321 1115L322 1115L322 1114L321 1114ZM323 1115L324 1115L324 1114L323 1114ZM324 1115L325 1115L325 1114L324 1114ZM326 1115L327 1115L327 1114L326 1114ZM327 1115L329 1115L329 1114L327 1114ZM329 1115L330 1115L330 1114L329 1114ZM331 1115L332 1115L332 1114L331 1114ZM332 1115L333 1115L333 1114L332 1114ZM334 1115L335 1115L335 1114L334 1114ZM335 1115L337 1115L337 1114L335 1114ZM337 1115L338 1115L338 1114L337 1114ZM339 1115L340 1115L340 1114L339 1114ZM340 1115L341 1115L341 1114L340 1114ZM342 1115L343 1115L343 1114L342 1114ZM343 1115L345 1115L345 1114L343 1114ZM345 1115L346 1115L346 1114L345 1114ZM347 1115L348 1115L348 1114L347 1114ZM348 1115L349 1115L349 1114L348 1114ZM350 1115L351 1115L351 1114L350 1114ZM351 1115L353 1115L353 1114L351 1114ZM353 1115L354 1115L354 1114L353 1114ZM355 1115L356 1115L356 1114L355 1114ZM356 1115L357 1115L357 1114L356 1114ZM358 1115L359 1115L359 1114L358 1114ZM359 1115L361 1115L361 1114L359 1114ZM361 1115L362 1115L362 1114L361 1114ZM363 1115L364 1115L364 1114L363 1114ZM364 1115L365 1115L365 1114L364 1114ZM366 1115L367 1115L367 1114L366 1114ZM367 1115L369 1115L369 1114L367 1114ZM369 1115L370 1115L370 1114L369 1114ZM370 1115L372 1115L372 1114L370 1114ZM372 1115L373 1115L373 1114L372 1114ZM374 1115L375 1115L375 1114L374 1114ZM375 1115L377 1115L377 1114L375 1114ZM377 1115L378 1115L378 1114L377 1114ZM378 1115L380 1115L380 1114L378 1114ZM380 1115L381 1115L381 1114L380 1114ZM382 1115L383 1115L383 1114L382 1114ZM383 1115L385 1115L385 1114L383 1114ZM385 1115L386 1115L386 1114L385 1114ZM386 1115L388 1115L388 1114L386 1114ZM388 1115L389 1115L389 1114L388 1114ZM390 1115L391 1115L391 1114L390 1114ZM391 1115L393 1115L393 1114L391 1114ZM393 1115L394 1115L394 1114L393 1114ZM394 1115L396 1115L396 1114L394 1114ZM396 1115L397 1115L397 1114L396 1114ZM398 1115L399 1115L399 1114L398 1114ZM399 1115L400 1115L400 1114L399 1114ZM401 1115L402 1115L402 1114L401 1114ZM402 1115L404 1115L404 1114L402 1114ZM404 1115L405 1115L405 1114L404 1114ZM406 1115L407 1115L407 1114L406 1114ZM407 1115L408 1115L408 1114L407 1114ZM409 1115L410 1115L410 1114L409 1114ZM410 1115L412 1115L412 1114L410 1114ZM412 1115L413 1115L413 1114L412 1114ZM414 1115L415 1115L415 1114L414 1114ZM445 1115L447 1115L447 1114L445 1114ZM447 1115L448 1115L448 1114L447 1114ZM449 1115L450 1115L450 1114L449 1114ZM450 1115L452 1115L452 1114L450 1114ZM452 1115L453 1115L453 1114L452 1114ZM453 1115L455 1115L455 1114L453 1114ZM455 1115L456 1115L456 1114L455 1114ZM457 1115L458 1115L458 1114L457 1114ZM458 1115L460 1115L460 1114L458 1114ZM460 1115L461 1115L461 1114L460 1114ZM461 1115L463 1115L463 1114L461 1114ZM463 1115L464 1115L464 1114L463 1114ZM465 1115L466 1115L466 1114L465 1114ZM466 1115L468 1115L468 1114L466 1114ZM468 1115L469 1115L469 1114L468 1114ZM469 1115L471 1115L471 1114L469 1114ZM471 1115L472 1115L472 1114L471 1114ZM473 1115L474 1115L474 1114L473 1114ZM474 1115L475 1115L475 1114L474 1114ZM476 1115L477 1115L477 1114L476 1114ZM477 1115L479 1115L479 1114L477 1114ZM479 1115L480 1115L480 1114L479 1114ZM481 1115L482 1115L482 1114L481 1114ZM482 1115L483 1115L483 1114L482 1114ZM484 1115L485 1115L485 1114L484 1114ZM485 1115L487 1115L487 1114L485 1114ZM487 1115L488 1115L488 1114L487 1114ZM489 1115L490 1115L490 1114L489 1114ZM490 1115L491 1115L491 1114L490 1114ZM492 1115L493 1115L493 1114L492 1114ZM493 1115L495 1115L495 1114L493 1114ZM495 1115L496 1115L496 1114L495 1114ZM497 1115L498 1115L498 1114L497 1114ZM498 1115L499 1115L499 1114L498 1114ZM500 1115L501 1115L501 1114L500 1114ZM501 1115L503 1115L503 1114L501 1114ZM503 1115L504 1115L504 1114L503 1114ZM505 1115L506 1115L506 1114L505 1114ZM506 1115L507 1115L507 1114L506 1114ZM508 1115L509 1115L509 1114L508 1114ZM509 1115L511 1115L511 1114L509 1114ZM511 1115L512 1115L512 1114L511 1114ZM513 1115L514 1115L514 1114L513 1114ZM514 1115L515 1115L515 1114L514 1114ZM516 1115L517 1115L517 1114L516 1114ZM517 1115L519 1115L519 1114L517 1114ZM519 1115L520 1115L520 1114L519 1114ZM521 1115L522 1115L522 1114L521 1114ZM522 1115L523 1115L523 1114L522 1114ZM524 1115L525 1115L525 1114L524 1114ZM525 1115L527 1115L527 1114L525 1114ZM527 1115L528 1115L528 1114L527 1114ZM528 1115L530 1115L530 1114L528 1114ZM530 1115L531 1115L531 1114L530 1114ZM532 1115L533 1115L533 1114L532 1114ZM533 1115L535 1115L535 1114L533 1114ZM535 1115L536 1115L536 1114L535 1114ZM536 1115L538 1115L538 1114L536 1114ZM538 1115L539 1115L539 1114L538 1114ZM572 1115L573 1115L573 1114L572 1114ZM573 1115L574 1115L574 1114L573 1114ZM575 1115L576 1115L576 1114L575 1114ZM576 1115L578 1115L578 1114L576 1114ZM578 1115L579 1115L579 1114L578 1114ZM580 1115L581 1115L581 1114L580 1114ZM581 1115L582 1115L582 1114L581 1114ZM583 1115L584 1115L584 1114L583 1114ZM584 1115L586 1115L586 1114L584 1114ZM586 1115L587 1115L587 1114L586 1114ZM588 1115L589 1115L589 1114L588 1114ZM589 1115L590 1115L590 1114L589 1114ZM591 1115L592 1115L592 1114L591 1114ZM592 1115L594 1115L594 1114L592 1114ZM594 1115L595 1115L595 1114L594 1114ZM596 1115L597 1115L597 1114L596 1114ZM597 1115L598 1115L598 1114L597 1114ZM599 1115L600 1115L600 1114L599 1114ZM600 1115L602 1115L602 1114L600 1114ZM602 1115L603 1115L603 1114L602 1114ZM603 1115L605 1115L605 1114L603 1114ZM605 1115L606 1115L606 1114L605 1114ZM607 1115L608 1115L608 1114L607 1114ZM608 1115L610 1115L610 1114L608 1114ZM610 1115L611 1115L611 1114L610 1114ZM611 1115L613 1115L613 1114L611 1114ZM613 1115L614 1115L614 1114L613 1114ZM615 1115L616 1115L616 1114L615 1114ZM616 1115L618 1115L618 1114L616 1114ZM618 1115L619 1115L619 1114L618 1114ZM619 1115L621 1115L621 1114L619 1114ZM621 1115L622 1115L622 1114L621 1114ZM623 1115L624 1115L624 1114L623 1114ZM624 1115L626 1115L626 1114L624 1114ZM626 1115L627 1115L627 1114L626 1114ZM627 1115L629 1115L629 1114L627 1114ZM629 1115L630 1115L630 1114L629 1114ZM631 1115L632 1115L632 1114L631 1114ZM632 1115L633 1115L633 1114L632 1114ZM634 1115L635 1115L635 1114L634 1114ZM635 1115L637 1115L637 1114L635 1114ZM637 1115L638 1115L638 1114L637 1114ZM639 1115L640 1115L640 1114L639 1114ZM640 1115L641 1115L641 1114L640 1114ZM642 1115L643 1115L643 1114L642 1114ZM643 1115L645 1115L645 1114L643 1114ZM645 1115L646 1115L646 1114L645 1114ZM647 1115L648 1115L648 1114L647 1114ZM648 1115L649 1115L649 1114L648 1114ZM650 1115L651 1115L651 1114L650 1114ZM651 1115L653 1115L653 1114L651 1114ZM653 1115L654 1115L654 1114L653 1114ZM655 1115L656 1115L656 1114L655 1114ZM656 1115L657 1115L657 1114L656 1114ZM658 1115L659 1115L659 1114L658 1114ZM659 1115L661 1115L661 1114L659 1114ZM661 1115L662 1115L662 1114L661 1114ZM663 1115L664 1115L664 1114L663 1114ZM664 1115L665 1115L665 1114L664 1114ZM696 1115L697 1115L697 1114L696 1114ZM698 1115L699 1115L699 1114L698 1114ZM699 1115L701 1115L701 1114L699 1114ZM701 1115L702 1115L702 1114L701 1114ZM702 1115L704 1115L704 1114L702 1114ZM704 1115L705 1115L705 1114L704 1114ZM706 1115L707 1115L707 1114L706 1114ZM707 1115L709 1115L709 1114L707 1114ZM709 1115L710 1115L710 1114L709 1114ZM710 1115L712 1115L712 1114L710 1114ZM712 1115L713 1115L713 1114L712 1114ZM714 1115L715 1115L715 1114L714 1114ZM715 1115L716 1115L716 1114L715 1114ZM717 1115L718 1115L718 1114L717 1114ZM718 1115L720 1115L720 1114L718 1114ZM720 1115L721 1115L721 1114L720 1114ZM722 1115L723 1115L723 1114L722 1114ZM723 1115L724 1115L724 1114L723 1114ZM725 1115L726 1115L726 1114L725 1114ZM726 1115L728 1115L728 1114L726 1114ZM728 1115L729 1115L729 1114L728 1114ZM730 1115L731 1115L731 1114L730 1114ZM731 1115L732 1115L732 1114L731 1114ZM733 1115L734 1115L734 1114L733 1114ZM734 1115L736 1115L736 1114L734 1114ZM736 1115L737 1115L737 1114L736 1114ZM738 1115L739 1115L739 1114L738 1114ZM739 1115L740 1115L740 1114L739 1114ZM741 1115L742 1115L742 1114L741 1114ZM742 1115L744 1115L744 1114L742 1114ZM744 1115L745 1115L745 1114L744 1114ZM746 1115L747 1115L747 1114L746 1114ZM747 1115L748 1115L748 1114L747 1114ZM749 1115L750 1115L750 1114L749 1114ZM750 1115L752 1115L752 1114L750 1114ZM752 1115L753 1115L753 1114L752 1114ZM754 1115L755 1115L755 1114L754 1114ZM755 1115L756 1115L756 1114L755 1114ZM757 1115L758 1115L758 1114L757 1114ZM758 1115L760 1115L760 1114L758 1114ZM760 1115L761 1115L761 1114L760 1114ZM761 1115L763 1115L763 1114L761 1114ZM763 1115L764 1115L764 1114L763 1114ZM765 1115L766 1115L766 1114L765 1114ZM766 1115L768 1115L768 1114L766 1114ZM768 1115L769 1115L769 1114L768 1114ZM769 1115L771 1115L771 1114L769 1114ZM771 1115L772 1115L772 1114L771 1114ZM773 1115L774 1115L774 1114L773 1114ZM774 1115L776 1115L776 1114L774 1114ZM776 1115L777 1115L777 1114L776 1114ZM777 1115L779 1115L779 1114L777 1114ZM779 1115L780 1115L780 1114L779 1114ZM781 1115L782 1115L782 1114L781 1114ZM782 1115L784 1115L784 1114L782 1114ZM784 1115L785 1115L785 1114L784 1114ZM785 1115L787 1115L787 1114L785 1114ZM787 1115L788 1115L788 1114L787 1114ZM789 1115L790 1115L790 1114L789 1114ZM822 1115L823 1115L823 1114L822 1114ZM824 1115L825 1115L825 1114L824 1114ZM825 1115L827 1115L827 1114L825 1114ZM827 1115L828 1115L828 1114L827 1114ZM829 1115L830 1115L830 1114L829 1114ZM830 1115L831 1115L831 1114L830 1114ZM832 1115L833 1115L833 1114L832 1114ZM833 1115L835 1115L835 1114L833 1114ZM835 1115L836 1115L836 1114L835 1114ZM837 1115L838 1115L838 1114L837 1114ZM838 1115L839 1115L839 1114L838 1114ZM840 1115L841 1115L841 1114L840 1114ZM841 1115L843 1115L843 1114L841 1114ZM843 1115L844 1115L844 1114L843 1114ZM844 1115L846 1115L846 1114L844 1114ZM846 1115L847 1115L847 1114L846 1114ZM848 1115L849 1115L849 1114L848 1114ZM849 1115L851 1115L851 1114L849 1114ZM851 1115L852 1115L852 1114L851 1114ZM852 1115L854 1115L854 1114L852 1114ZM854 1115L855 1115L855 1114L854 1114ZM856 1115L857 1115L857 1114L856 1114ZM857 1115L859 1115L859 1114L857 1114ZM859 1115L860 1115L860 1114L859 1114ZM860 1115L862 1115L862 1114L860 1114ZM862 1115L863 1115L863 1114L862 1114ZM864 1115L865 1115L865 1114L864 1114ZM865 1115L867 1115L867 1114L865 1114ZM867 1115L868 1115L868 1114L867 1114ZM868 1115L870 1115L870 1114L868 1114ZM870 1115L871 1115L871 1114L870 1114ZM872 1115L873 1115L873 1114L872 1114ZM873 1115L874 1115L874 1114L873 1114ZM875 1115L876 1115L876 1114L875 1114ZM876 1115L878 1115L878 1114L876 1114ZM878 1115L879 1115L879 1114L878 1114ZM880 1115L881 1115L881 1114L880 1114ZM881 1115L882 1115L882 1114L881 1114ZM883 1115L884 1115L884 1114L883 1114ZM884 1115L886 1115L886 1114L884 1114ZM886 1115L887 1115L887 1114L886 1114ZM888 1115L889 1115L889 1114L888 1114ZM889 1115L890 1115L890 1114L889 1114ZM891 1115L892 1115L892 1114L891 1114ZM892 1115L894 1115L894 1114L892 1114ZM894 1115L895 1115L895 1114L894 1114ZM896 1115L897 1115L897 1114L896 1114ZM897 1115L898 1115L898 1114L897 1114ZM899 1115L900 1115L900 1114L899 1114ZM900 1115L902 1115L902 1114L900 1114ZM902 1115L903 1115L903 1114L902 1114ZM904 1115L905 1115L905 1114L904 1114ZM905 1115L906 1115L906 1114L905 1114ZM907 1115L908 1115L908 1114L907 1114ZM908 1115L910 1115L910 1114L908 1114ZM910 1115L911 1115L911 1114L910 1114ZM912 1115L913 1115L913 1114L912 1114ZM913 1115L914 1115L914 1114L913 1114Z" clip-path="url(#c3)" fill="#f08080" fill-opacity="0.6"/>
<path d="M118.16 1114L119.76 1113.42L121.35 1112.85L122.95 1112.28L124.55 1111.72L126.14 1111.17L127.74 1110.62L129.33 1110.09L130.93 1109.58L132.53 1109.08L134.12 1108.59L135.72 1108.13L137.31 1107.68L138.91 1107.25L140.51 1106.85L142.1 1106.46L143.7 1106.1L145.29 1105.76L146.89 1105.44L148.48 1105.15L150.08 1104.88L151.68 1104.63L153.27 1104.41L154.87 1104.2L156.46 1104.02L158.06 1103.87L159.66 1103.73L161.25 1103.61L162.85 1103.51L164.44 1103.42L166.04 1103.35L167.64 1103.3L169.23 1103.26L170.83 1103.23L172.42 1103.21L174.02 1103.19L175.62 1103.19L177.21 1103.18L178.81 1103.18L180.4 1103.18L182 1103.18L183.6 1103.18L185.19 1103.17L186.79 1103.15L188.38 1103.13L189.98 1103.09L191.58 1103.04L193.17 1102.98L194.77 1102.91L196.36 1102.81L197.96 1102.7L199.56 1102.58L201.15 1102.43L202.75 1102.26L204.34 1102.07L205.94 1101.86L207.54 1101.62L209.13 1101.37L210.73 1101.08L212.32 1100.78L213.92 1100.45L215.52 1100.1L217.11 1099.73L218.71 1099.34L220.3 1098.92L221.9 1098.48L223.49 1098.03L225.09 1097.55L226.69 1097.06L228.28 1096.55L229.88 1096.03L231.47 1095.49L233.07 1094.95L234.67 1094.39L236.26 1093.82L237.86 1093.25L239.45 1092.67L241.05 1092.09L242.65 1091.51L244.24 1090.93L245.84 1090.36L247.43 1089.78L249.03 1089.22L250.63 1088.66L252.22 1088.11L253.82 1087.58L255.41 1087.05L257.01 1086.54L258.61 1086.05L260.2 1085.57L261.8 1085.12L263.39 1084.68L264.99 1084.26L266.59 1083.86L268.18 1083.49L269.78 1083.14L271.37 1082.81L272.97 1082.5L274.57 1082.22L276.16 1081.96L277.76 1081.72L279.35 1081.51L280.95 1081.32L282.55 1081.15L284.14 1081L285.74 1080.87L287.33 1080.76L288.93 1080.66L290.53 1080.59L292.12 1080.52L293.72 1080.48L295.31 1080.44L296.91 1080.41L298.51 1080.4L300.1 1080.39L301.7 1080.38L303.29 1080.38L304.89 1080.38L306.48 1080.38L308.08 1080.38L309.68 1080.37L311.27 1080.36L312.87 1080.34L314.46 1080.31L316.06 1080.27L317.66 1080.21L319.25 1080.15L320.85 1080.06L322.44 1079.96L324.04 1079.85L325.64 1079.71L327.23 1079.55L328.83 1079.37L330.42 1079.17L332.02 1078.95L333.62 1078.7L335.21 1078.44L336.81 1078.14L338.4 1077.83L340 1077.49L341.6 1077.13L343.19 1076.75L344.79 1076.34L346.38 1075.92L347.98 1075.47L349.58 1075.01L351.17 1074.53L352.77 1074.03L354.36 1073.51L355.96 1072.98L357.56 1072.44L359.15 1071.89L360.75 1071.33L362.34 1070.76L363.94 1070.18L365.54 1069.61L367.13 1069.03L368.73 1068.44L370.32 1067.87L371.92 1067.29L373.52 1066.72L375.11 1066.16L376.71 1065.6L378.3 1065.06L379.9 1064.53L381.49 1064.01L383.09 1063.51L384.69 1063.03L386.28 1062.56L387.88 1062.11L389.47 1061.68L391.07 1061.27L392.67 1060.89L394.26 1060.52L395.86 1060.18L397.45 1059.86L399.05 1059.57L400.65 1059.29L402.24 1059.05L403.84 1058.82L405.43 1058.62L407.03 1058.43L408.63 1058.27L410.22 1058.13L411.82 1058.01L413.41 1057.91L415.01 1057.82L416.61 1057.75L418.2 1057.7L419.8 1057.66L421.39 1057.62L422.99 1057.6L424.59 1057.59L426.18 1057.58L427.78 1057.58L429.37 1057.58L430.97 1057.58L432.57 1057.58L434.16 1057.57L435.76 1057.56L437.35 1057.55L438.95 1057.52L440.55 1057.49L442.14 1057.44L443.74 1057.38L445.33 1057.31L446.93 1057.22L448.53 1057.11L450.12 1056.98L451.72 1056.84L453.31 1056.67L454.91 1056.48L456.51 1056.27L458.1 1056.04L459.7 1055.78L461.29 1055.5L462.89 1055.2L464.48 1054.88L466.08 1054.53L467.68 1054.16L469.27 1053.76L470.87 1053.35L472.46 1052.91L474.06 1052.46L475.66 1051.99L477.25 1051.5L478.85 1050.99L480.44 1050.47L482.04 1049.93L483.64 1049.39L485.23 1048.83L486.83 1048.26L488.42 1047.69L490.02 1047.12L491.62 1046.54L493.21 1045.96L494.81 1045.38L496.4 1044.8L498 1044.23L499.6 1043.66L501.19 1043.1L502.79 1042.55L504.38 1042.01L505.98 1041.49L507.58 1040.98L509.17 1040.48L510.77 1040.01L512.36 1039.55L513.96 1039.11L515.56 1038.69L517.15 1038.29L518.75 1037.91L520.34 1037.56L521.94 1037.23L523.54 1036.92L525.13 1036.64L526.73 1036.38L528.32 1036.14L529.92 1035.92L531.52 1035.73L533.11 1035.56L534.71 1035.4L536.3 1035.27L537.9 1035.16L539.49 1035.07L541.09 1034.99L542.69 1034.92L544.28 1034.88L545.88 1034.84L547.47 1034.81L549.07 1034.79L550.67 1034.78L552.26 1034.78L553.86 1034.78L555.45 1034.78L557.05 1034.78L558.65 1034.77L560.24 1034.77L561.84 1034.75L563.43 1034.74L565.03 1034.71L566.63 1034.67L568.22 1034.61L569.82 1034.55L571.41 1034.47L573.01 1034.37L574.61 1034.25L576.2 1034.12L577.8 1033.96L579.39 1033.78L580.99 1033.59L582.59 1033.36L584.18 1033.12L585.78 1032.85L587.37 1032.56L588.97 1032.25L590.57 1031.92L592.16 1031.56L593.76 1031.18L595.35 1030.77L596.95 1030.35L598.55 1029.91L600.14 1029.44L601.74 1028.96L603.33 1028.46L604.93 1027.95L606.53 1027.42L608.12 1026.88L609.72 1026.33L611.31 1025.77L612.91 1025.2L614.51 1024.63L616.1 1024.05L617.7 1023.47L619.29 1022.89L620.89 1022.31L622.48 1021.73L624.08 1021.16L625.68 1020.6L627.27 1020.04L628.87 1019.5L630.46 1018.97L632.06 1018.45L633.66 1017.95L635.25 1017.46L636.85 1016.99L638.44 1016.54L640.04 1016.11L641.64 1015.7L643.23 1015.31L644.83 1014.95L646.42 1014.6L648.02 1014.28L649.62 1013.99L651.21 1013.71L652.81 1013.46L654.4 1013.23L656 1013.03L657.6 1012.84L659.19 1012.68L660.79 1012.54L662.38 1012.42L663.98 1012.31L665.58 1012.23L667.17 1012.15L668.77 1012.1L670.36 1012.05L671.96 1012.02L673.56 1012L675.15 1011.99L676.75 1011.98L678.34 1011.97L679.94 1011.97L681.54 1011.97L683.13 1011.97L684.73 1011.97L686.32 1011.96L687.92 1011.94L689.52 1011.92L691.11 1011.89L692.71 1011.84L694.3 1011.78L695.9 1011.71L697.49 1011.62L699.09 1011.52L700.69 1011.39L702.28 1011.25L703.88 1011.08L705.47 1010.89L707.07 1010.68L708.67 1010.45L710.26 1010.2L711.86 1009.92L713.45 1009.62L715.05 1009.3L716.65 1008.95L718.24 1008.58L719.84 1008.19L721.43 1007.78L723.03 1007.35L724.63 1006.89L726.22 1006.42L727.82 1005.93L729.41 1005.43L731.01 1004.91L732.61 1004.37L734.2 1003.83L735.8 1003.27L737.39 1002.71L738.99 1002.13L740.59 1001.56L742.18 1000.98L743.78 1000.4L745.37 999.82L746.97 999.24L748.57 998.67L750.16 998.1L751.76 997.54L753.35 996.99L754.95 996.45L756.55 995.93L758.14 995.41L759.74 994.92L761.33 994.44L762.93 993.98L764.53 993.54L766.12 993.12L767.72 992.72L769.31 992.34L770.91 991.98L772.51 991.65L774.1 991.34L775.7 991.05L777.29 990.79L778.89 990.55L780.48 990.33L782.08 990.14L783.68 989.96L785.27 989.81L786.87 989.68L788.46 989.56L790.06 989.47L791.66 989.39L793.25 989.32L794.85 989.27L796.44 989.24L798.04 989.21L799.64 989.19L801.23 989.18L802.83 989.17L804.42 989.17L806.02 989.17L807.62 989.17L809.21 989.17L810.81 989.16L812.4 989.15L814 989.13L815.6 989.11L817.19 989.07L818.79 989.02L820.38 988.95L821.98 988.87L823.58 988.77L825.17 988.66L826.77 988.52L828.36 988.37L829.96 988.19L831.56 988L833.15 987.78L834.75 987.54L836.34 987.27L837.94 986.98L839.54 986.67L841.13 986.34L842.73 985.98L844.32 985.6L845.92 985.2L847.52 984.78L849.11 984.34L850.71 983.88L852.3 983.4L853.9 982.9L855.49 982.39L857.09 981.86L858.69 981.32L860.28 980.77L861.88 980.21L863.47 979.64L865.07 979.07L866.67 978.49L868.26 977.91L869.86 977.33L871.45 976.75L873.05 976.17L874.65 975.6L876.24 975.04L877.84 974.48L879.43 973.94L881.03 973.41L882.63 972.89L884.22 972.38L885.82 971.89L887.41 971.42L889.01 970.97L890.61 970.54L892.2 970.13L893.8 969.74L895.39 969.37L896.99 969.03L898.59 968.7L900.18 968.4L901.78 968.13L903.37 967.88L904.97 967.65L906.57 967.44L908.16 967.25L909.76 967.09L911.35 966.95L912.95 966.82L914.55 966.72" clip-path="url(#c3)" fill="none" stroke="#b22222" stroke-width="2.778" stroke-linecap="round" stroke-linejoin="round"/>
<path d="M118.16 1113.86L119.76 1113.13L121.35 1112.41L122.95 1111.68L124.55 1110.95L126.14 1110.23L127.74 1109.5L129.33 1108.78L130.93 1108.05L132.53 1107.32L134.12 1106.6L135.72 1105.87L137.31 1105.15L138.91 1104.42L140.51 1103.69L142.1 1102.97L143.7 1102.24L145.29 1101.52L146.89 1100.79L148.48 1100.07L150.08 1099.34L151.68 1098.61L153.27 1097.89L154.87 1097.16L156.46 1096.44L158.06 1095.71L159.66 1094.98L161.25 1094.26L162.85 1093.53L164.44 1092.81L166.04 1092.08L167.64 1091.35L169.23 1090.63L170.83 1089.9L172.42 1089.18L174.02 1088.45L175.62 1087.72L177.21 1087L178.81 1086.27L180.4 1085.55L182 1084.82L183.6 1084.1L185.19 1083.37L186.79 1082.64L188.38 1081.92L189.98 1081.19L191.58 1080.47L193.17 1079.74L194.77 1079.01L196.36 1078.29L197.96 1077.56L199.56 1076.84L201.15 1076.11L202.75 1075.38L204.34 1074.66L205.94 1073.93L207.54 1073.21L209.13 1072.48L210.73 1071.75L212.32 1071.03L213.92 1070.3L215.52 1069.58L217.11 1068.85L218.71 1068.13L220.3 1067.4L221.9 1066.67L223.49 1065.95L225.09 1065.22L226.69 1064.5L228.28 1063.77L229.88 1063.04L231.47 1062.32L233.07 1061.59L234.67 1060.87L236.26 1060.14L237.86 1059.41L239.45 1058.69L241.05 1057.96L242.65 1057.24L244.24 1056.51L245.84 1055.78L247.43 1055.06L249.03 1054.33L250.63 1053.61L252.22 1052.88L253.82 1052.16L255.41 1051.43L257.01 1050.7L258.61 1049.98L260.2 1049.25L261.8 1048.53L263.39 1047.8L264.99 1047.07L266.59 1046.35L268.18 1045.62L269.78 1044.9L271.37 1044.17L272.97 1043.44L274.57 1042.72L276.16 1041.99L277.76 1041.27L279.35 1040.54L280.95 1039.81L282.55 1039.09L284.14 1038.36L285.74 1037.64L287.33 1036.91L288.93 1036.19L290.53 1035.46L292.12 1034.73L293.72 1034.01L295.31 1033.28L296.91 1032.56L298.51 1031.83L300.1 1031.1L301.7 1030.38L303.29 1029.65L304.89 1028.93L306.48 1028.2L308.08 1027.47L309.68 1026.75L311.27 1026.02L312.87 1025.3L314.46 1024.57L316.06 1023.84L317.66 1023.12L319.25 1022.39L320.85 1021.67L322.44 1020.94L324.04 1020.22L325.64 1019.49L327.23 1018.76L328.83 1018.04L330.42 1017.31L332.02 1016.59L333.62 1015.86L335.21 1015.13L336.81 1014.41L338.4 1013.68L340 1012.96L341.6 1012.23L343.19 1011.5L344.79 1010.78L346.38 1010.05L347.98 1009.33L349.58 1008.6L351.17 1007.87L352.77 1007.15L354.36 1006.42L355.96 1005.7L357.56 1004.97L359.15 1004.25L360.75 1003.52L362.34 1002.79L363.94 1002.07L365.54 1001.34L367.13 1000.62L368.73 999.89L370.32 999.16L371.92 998.44L373.52 997.71L375.11 996.99L376.71 996.26L378.3 995.53L379.9 994.81L381.49 994.08L383.09 993.36L384.69 992.63L386.28 991.9L387.88 991.18L389.47 990.45L391.07 989.73L392.67 989L394.26 988.28L395.86 987.55L397.45 986.82L399.05 986.1L400.65 985.37L402.24 984.65L403.84 983.92L405.43 983.19L407.03 982.47L408.63 981.74L410.22 981.02L411.82 980.29L413.41 979.56L415.01 978.84L416.61 978.11L418.2 977.39L419.8 976.66L421.39 975.93L422.99 975.21L424.59 974.48L426.18 973.76L427.78 973.03L429.37 972.31L430.97 971.58L432.57 970.85L434.16 970.13L435.76 969.4L437.35 968.68L438.95 967.95L440.55 967.22L442.14 966.5L443.74 965.77L445.33 965.05L446.93 964.32L448.53 963.59L450.12 962.87L451.72 962.14L453.31 961.42L454.91 960.69L456.51 959.96L458.1 959.24L459.7 958.51L461.29 957.79L462.89 957.06L464.48 956.34L466.08 955.61L467.68 954.88L469.27 954.16L470.87 953.43L472.46 952.71L474.06 951.98L475.66 951.25L477.25 950.53L478.85 949.8L480.44 949.08L482.04 948.35L483.64 947.62L485.23 946.9L486.83 946.17L488.42 945.45L490.02 944.72L491.62 943.99L493.21 943.27L494.81 942.54L496.4 941.82L498 941.09L499.6 940.37L501.19 939.64L502.79 938.91L504.38 938.19L505.98 937.46L507.58 936.74L509.17 936.01L510.77 935.28L512.36 934.56L513.96 933.83L515.56 933.11L517.15 932.38L518.75 931.65L520.34 930.93L521.94 930.2L523.54 929.48L525.13 928.75L526.73 928.02L528.32 927.3L529.92 926.57L531.52 925.85L533.11 925.12L534.71 924.4L536.3 923.67L537.9 922.94L539.49 922.22L541.09 921.49L542.69 920.77L544.28 920.04L545.88 919.31L547.47 918.59L549.07 917.86L550.67 917.14L552.26 916.41L553.86 915.68L555.45 914.96L557.05 914.23L558.65 913.51L560.24 912.78L561.84 912.05L563.43 911.33L565.03 910.6L566.63 909.88L568.22 909.15L569.82 908.43L571.41 907.7L573.01 906.97L574.61 906.25L576.2 905.52L577.8 904.8L579.39 904.07L580.99 903.34L582.59 902.62L584.18 901.89L585.78 901.17L587.37 900.44L588.97 899.71L590.57 898.99L592.16 898.26L593.76 897.54L595.35 896.81L596.95 896.08L598.55 895.36L600.14 894.63L601.74 893.91L603.33 893.18L604.93 892.46L606.53 891.73L608.12 891L609.72 890.28L611.31 889.55L612.91 888.83L614.51 888.1L616.1 887.37L617.7 886.65L619.29 885.92L620.89 885.2L622.48 884.47L624.08 883.74L625.68 883.02L627.27 882.29L628.87 881.57L630.46 880.84L632.06 880.11L633.66 879.39L635.25 878.66L636.85 877.94L638.44 877.21L640.04 876.49L641.64 875.76L643.23 875.03L644.83 874.31L646.42 873.58L648.02 872.86L649.62 872.13L651.21 871.4L652.81 870.68L654.4 869.95L656 869.23L657.6 868.5L659.19 867.77L660.79 867.05L662.38 866.32L663.98 865.6L665.58 864.87L667.17 864.14L668.77 863.42L670.36 862.69L671.96 861.97L673.56 861.24L675.15 860.52L676.75 859.79L678.34 859.06L679.94 858.34L681.54 857.61L683.13 856.89L684.73 856.16L686.32 855.43L687.92 854.71L689.52 853.98L691.11 853.26L692.71 852.53L694.3 851.8L695.9 851.08L697.49 850.35L699.09 849.63L700.69 848.9L702.28 848.17L703.88 847.45L705.47 846.72L707.07 846L708.67 845.27L710.26 844.55L711.86 843.82L713.45 843.09L715.05 842.37L716.65 841.64L718.24 840.92L719.84 840.19L721.43 839.46L723.03 838.74L724.63 838.01L726.22 837.29L727.82 836.56L729.41 835.83L731.01 835.11L732.61 834.38L734.2 833.66L735.8 832.93L737.39 832.2L738.99 831.48L740.59 830.75L742.18 830.03L743.78 829.3L745.37 828.58L746.97 827.85L748.57 827.12L750.16 826.4L751.76 825.67L753.35 824.95L754.95 824.22L756.55 823.49L758.14 822.77L759.74 822.04L761.33 821.32L762.93 820.59L764.53 819.86L766.12 819.14L767.72 818.41L769.31 817.69L770.91 816.96L772.51 816.23L774.1 815.51L775.7 814.78L777.29 814.06L778.89 813.33L780.48 812.61L782.08 811.88L783.68 811.15L785.27 810.43L786.87 809.7L788.46 808.98L790.06 808.25L791.66 807.52L793.25 806.8L794.85 806.07L796.44 805.35L798.04 804.62L799.64 803.89L801.23 803.17L802.83 802.44L804.42 801.72L806.02 800.99L807.62 800.26L809.21 799.54L810.81 798.81L812.4 798.09L814 797.36L815.6 796.64L817.19 795.91L818.79 795.18L820.38 794.46L821.98 793.73L823.58 793.01L825.17 792.28L826.77 791.55L828.36 790.83L829.96 790.1L831.56 789.38L833.15 788.65L834.75 787.92L836.34 787.2L837.94 786.47L839.54 785.75L841.13 785.02L842.73 784.29L844.32 783.57L845.92 782.84L847.52 782.12L849.11 781.39L850.71 780.67L852.3 779.94L853.9 779.21L855.49 778.49L857.09 777.76L858.69 777.04L860.28 776.31L861.88 775.58L863.47 774.86L865.07 774.13L866.67 773.41L868.26 772.68L869.86 771.95L871.45 771.23L873.05 770.5L874.65 769.78L876.24 769.05L877.84 768.32L879.43 767.6L881.03 766.87L882.63 766.15L884.22 765.42L885.82 764.7L887.41 763.97L889.01 763.24L890.61 762.52L892.2 761.79L893.8 761.07L895.39 760.34L896.99 759.61L898.59 758.89L900.18 758.16L901.78 757.44L903.37 756.71L904.97 755.98L906.57 755.26L908.16 754.53L909.76 753.81L911.35 753.08L912.95 752.35L914.55 751.63" clip-path="url(#c3)" fill="none" stroke="#000000" stroke-width="2.083" stroke-dasharray="7.708,3.333" stroke-linejoin="round"/>
<path d="M77.5 1115.5L77.5 733.5" fill="none" stroke="#cccccc" stroke-width="1.389" stroke-linecap="square"/>
<path d="M954.5 1115.5L954.5 733.5" fill="none" stroke="#cccccc" stroke-width="1.389" stroke-linecap="square"/>
<path d="M77.5 1115.5L954.5 1115.5" fill="none" stroke="#cccccc" stroke-width="1.389" stroke-linecap="square"/>
<path d="M77.5 733.5L954.5 733.5" fill="none" stroke="#cccccc" stroke-width="1.389" stroke-linecap="square"/>
<text transform="translate(266 733)" xml:space="preserve"><tspan class="s" font-size="19.25" x="1 11 17 22 35 46 57 68 74 85 96 101 115 126 132 143 149 165 170 180 185 195 200 204 214 219 225 236 245 252 263 279 290 301 306 316" y="-8">3. Squared Deterministic Increments </tspan><tspan class="m" font-size="19.444" x="321 329" y="-8">(Δ</tspan><tspan class="mi" font-size="19.444" x="342" y="-8">f</tspan><tspan class="mi" font-size="13.611" x="349" y="-4">t</tspan><tspan class="m" font-size="19.444" x="355" y="-8">)</tspan><tspan class="m" font-size="13.611" x="363" y="-15">2</tspan><tspan class="s" font-size="19.25" x="372 377 388 399 410 415 421 432 443 447 453 459 472 483" y="-8"> and their Sum</tspan></text>
<path d="M89.5 757.5L103.5 757.5L117.5 757.5" fill="none" stroke="#b22222" stroke-width="2.778" stroke-linecap="round" stroke-linejoin="round"/>
<text transform="translate(128 769)" xml:space="preserve"><tspan class="m" font-size="19.646" x="1" y="-7">∑</tspan><tspan class="m" font-size="13.889" x="14 19" y="-7">(Δ</tspan><tspan class="mi" font-size="13.889" x="29" y="-7">f</tspan><tspan class="mi" font-size="9.722" x="34" y="-5">s</tspan><tspan class="m" font-size="13.889" x="39" y="-7">)</tspan><tspan class="m" font-size="9.722" x="45" y="-13">2</tspan></text>
<path d="M89 783L103 783L117 783" fill="none" stroke="#000000" stroke-width="2.083" stroke-dasharray="7.708,3.333" stroke-linejoin="round"/>
<text transform="translate(128 794)" xml:space="preserve"><tspan class="s" font-size="13.889" x="1 8 11 19 27" y="-6">Line </tspan><tspan class="mi" font-size="13.889" x="31" y="-6">y</tspan><tspan class="m" font-size="13.889" x="42" y="-6">=</tspan><tspan class="mi" font-size="13.889" x="56" y="-6">t</tspan><tspan class="s" font-size="13.889" x="61 65 70 79 84 91 101 109 112 120 128 131 142 151 155 159 164 172 179 187" y="-6"> (Brownian QV trend)</tspan></text>
<path d="M89 815L117 815L117 805L89 805Z" fill="#f08080" fill-opacity="0.6"/>
<text transform="translate(128 823)" xml:space="preserve"><tspan class="m" font-size="13.889" x="1 6" y="-8">(Δ</tspan><tspan class="mi" font-size="13.889" x="15" y="-8">f</tspan><tspan class="mi" font-size="9.722" x="20" y="-5">s</tspan><tspan class="m" font-size="13.889" x="26" y="-8">)</tspan><tspan class="m" font-size="9.722" x="31" y="-13">2</tspan><tspan class="s" font-size="13.889" x="38 42 46 50 58 66 69 76 79 86 94 102 105" y="-8"> (Individual)</tspan></text>
</svg>
</body></html>
